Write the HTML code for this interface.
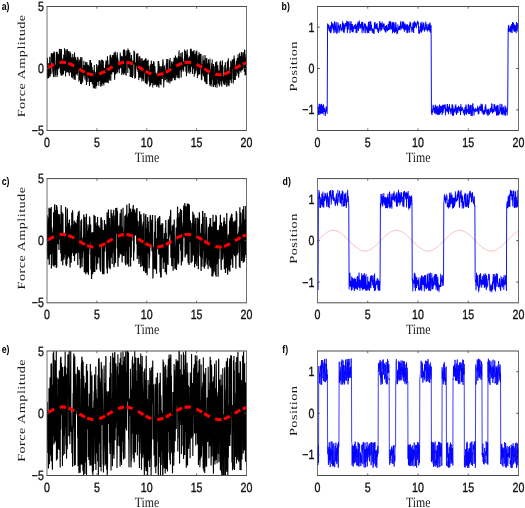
<!DOCTYPE html><html><head><meta charset="utf-8"><style>html,body{margin:0;padding:0;background:#fff;overflow:hidden;}svg{display:block;will-change:transform;}text{text-rendering:geometricPrecision;}.tk{font-family:"Liberation Sans",sans-serif;font-size:13.3px;fill:#111;stroke:#111;stroke-width:0.35px;}.lb{font-family:"Liberation Serif",serif;fill:#1a1a1a;}.pl{font-family:"Liberation Sans",sans-serif;font-size:11px;font-weight:bold;fill:#000;}</style></head><body>
<svg width="525" height="508" viewBox="0 0 525 508">
<rect width="525" height="508" fill="#fff"/>
<defs>
<clipPath id="c00"><rect x="47" y="6.5" width="199.5" height="124"/></clipPath>
<clipPath id="c01"><rect x="317.5" y="6.5" width="201" height="124"/></clipPath>
<clipPath id="c10"><rect x="47" y="178.6" width="199.5" height="124.2"/></clipPath>
<clipPath id="c11"><rect x="317.5" y="178.6" width="201" height="124.2"/></clipPath>
<clipPath id="c20"><rect x="47" y="351" width="199.5" height="124.5"/></clipPath>
<clipPath id="c21"><rect x="317.5" y="351" width="201" height="124.5"/></clipPath>
</defs>
<g clip-path="url(#c00)">
<polyline fill="none" stroke="#000" stroke-width="1.3" transform="translate(47 0) scale(0.8 1)" points="0,77.4 0.2,67.4 0.5,57.8 0.7,65.7 1,78.8 1.2,69.1 1.5,63.1 1.7,68.1 2,67.9 2.2,78 2.5,74 2.7,72.5 3,69.5 3.2,65.1 3.5,56.7 3.7,76.6 4,75.6 4.2,70.8 4.5,71.5 4.7,63 5,74.1 5.2,55.7 5.5,53 5.7,56.5 6,62.3 6.2,56.3 6.5,53.9 6.7,57.2 7,64 7.2,72.4 7.5,52.9 7.7,74.5 8,73.5 8.2,77.1 8.5,67.4 8.7,51.5 9,55.5 9.2,51.7 9.5,56.9 9.7,61 10,77.1 10.2,75.6 10.5,71.4 10.7,75.1 11,64.7 11.2,66.6 11.5,66 11.7,51.7 12,69.4 12.2,63.3 12.5,77 12.7,51.7 13,56 13.2,74.9 13.5,58.6 13.7,67.1 14,54.4 14.2,69.3 14.5,66.5 14.7,53.7 15,60.6 15.2,67.2 15.5,48.7 15.7,52.4 16,68.2 16.2,55.8 16.5,48.9 16.7,71.8 17,73.3 17.2,52.8 17.5,73.7 17.7,75.3 18,49 18.2,53.5 18.5,73.4 18.7,75.6 19,68.2 19.2,74.8 19.5,70.1 19.7,62 19.9,58.6 20.2,63.7 20.4,74.4 20.7,72.4 20.9,54.4 21.2,56.1 21.4,58.5 21.7,71 21.9,48.2 22.2,69.3 22.4,61.5 22.7,60 22.9,59.6 23.2,76.6 23.4,53.2 23.7,49.5 23.9,50.8 24.2,72.5 24.4,66.9 24.7,61.3 24.9,64.6 25.2,66.9 25.4,48.9 25.7,72.2 25.9,58.3 26.2,51 26.4,72.6 26.7,67 26.9,58.4 27.2,58 27.4,51.2 27.7,69.8 27.9,75.8 28.2,59.7 28.4,68.8 28.7,62.2 28.9,51.4 29.2,59.8 29.4,72.5 29.7,53.4 29.9,64 30.2,63.6 30.4,57 30.7,77.2 30.9,65.5 31.2,68 31.4,58.3 31.7,78.2 31.9,67.2 32.2,54 32.4,59.7 32.7,60.9 32.9,68.9 33.2,76.2 33.4,57.3 33.7,79.5 33.9,63.7 34.2,61 34.4,52.5 34.7,64.4 34.9,76.6 35.2,80 35.4,74.6 35.7,67.5 35.9,57 36.2,71.9 36.4,74.3 36.7,65.8 36.9,60.8 37.2,59.7 37.4,61.5 37.7,75.4 37.9,72.5 38.2,73.5 38.4,56.8 38.7,60.3 38.9,57.7 39.2,70.3 39.4,63.5 39.7,61.5 39.9,81.6 40.1,76.1 40.4,73.9 40.6,63.4 40.9,59.6 41.1,79.9 41.4,77.8 41.6,69.1 41.9,84 42.1,57.1 42.4,70.3 42.6,61.9 42.9,62.8 43.1,84.3 43.4,73.2 43.6,57.3 43.9,67.1 44.1,79.4 44.4,68.3 44.6,82.6 44.9,71.3 45.1,77.1 45.4,73.4 45.6,65.2 45.9,72.8 46.1,60.7 46.4,75.3 46.6,73.5 46.9,65.2 47.1,69.5 47.4,78.6 47.6,79 47.9,74.6 48.1,66.7 48.4,61.7 48.6,69.3 48.9,67.4 49.1,72.4 49.4,84.9 49.6,76.1 49.9,62.1 50.1,74 50.4,64.9 50.6,65.3 50.9,65.7 51.1,82 51.4,67.4 51.6,64.9 51.9,69.8 52.1,78 52.4,77 52.6,67.2 52.9,66.8 53.1,86.1 53.4,73.1 53.6,60.1 53.9,81.6 54.1,78.1 54.4,60.1 54.6,82.1 54.9,62.6 55.1,63.2 55.4,81.9 55.6,63 55.9,81.2 56.1,79.5 56.4,67.1 56.6,84.2 56.9,69.8 57.1,78.1 57.4,70.3 57.6,79.5 57.9,88.3 58.1,74.4 58.4,76.2 58.6,73.1 58.9,72.5 59.1,64.9 59.4,88.5 59.6,75.6 59.8,71.5 60.1,74.8 60.3,72.2 60.6,75.8 60.8,85.5 61.1,88.6 61.3,76.3 61.6,84 61.8,77.4 62.1,63.9 62.3,86.1 62.6,72.3 62.8,81.4 63.1,78.4 63.3,82 63.6,66.6 63.8,69 64.1,65.1 64.3,68.6 64.6,80.1 64.8,85.7 65.1,60 65.3,61.3 65.6,81 65.8,79.9 66.1,74.2 66.3,61.7 66.6,60.7 66.8,75.1 67.1,84.7 67.3,86.7 67.6,64.5 67.8,83.2 68.1,82 68.3,59.5 68.6,77.3 68.8,85.8 69.1,62.6 69.3,60.1 69.6,74.5 69.8,83.5 70.1,75.6 70.3,60.8 70.6,69.8 70.8,74.3 71.1,85.4 71.3,71.8 71.6,73.7 71.8,67.9 72.1,70.7 72.3,81.8 72.6,82 72.8,72.2 73.1,64.4 73.3,73.3 73.6,60.4 73.8,82.2 74.1,69.7 74.3,69.2 74.6,80.7 74.8,60.4 75.1,82.8 75.3,64.2 75.6,56.3 75.8,76.4 76.1,60.2 76.3,77.6 76.6,83.3 76.8,77.2 77.1,78.4 77.3,64.4 77.6,66 77.8,75.3 78.1,66.7 78.3,80.4 78.6,59.3 78.8,55.4 79.1,64.3 79.3,59.2 79.6,54.8 79.8,80.7 80,62.8 80.3,61.9 80.5,57.2 80.8,70.6 81,74.1 81.3,70.7 81.5,72.3 81.8,67.6 82,55.1 82.3,69.2 82.5,58.1 82.8,71.9 83,58.2 83.3,55.3 83.5,72.4 83.8,52.6 84,60.4 84.3,61.4 84.5,79.8 84.8,74.1 85,64.9 85.3,51.5 85.5,54.4 85.8,74.3 86,55.3 86.3,57.8 86.5,57.4 86.8,66 87,61.8 87.3,73.4 87.5,70.1 87.8,52.2 88,56.2 88.3,72.3 88.5,58 88.8,62.3 89,60.5 89.3,69 89.5,68.4 89.8,67.5 90,61.7 90.3,73.3 90.5,65.9 90.8,63.4 91,68.8 91.3,66.1 91.5,52.6 91.8,56.7 92,60.1 92.3,68 92.5,62.2 92.8,57.8 93,59.7 93.3,55.9 93.5,74.9 93.8,72.8 94,72.4 94.3,68.5 94.5,56.4 94.8,66.9 95,62.8 95.3,73.1 95.5,50.1 95.8,74.8 96,71.1 96.3,61.2 96.5,49.2 96.8,61.8 97,73.6 97.3,50.1 97.5,52.9 97.8,70.7 98,58.6 98.3,55.8 98.5,74.6 98.8,74.9 99,75.6 99.3,57.8 99.5,58.9 99.8,50.4 100,63.5 100.2,55.3 100.5,56.8 100.7,55.3 101,73 101.2,48.6 101.5,53 101.7,50.5 102,51 102.2,67.7 102.5,50.2 102.7,58.7 103,56.9 103.2,69.3 103.5,64.8 103.7,52.5 104,77 104.2,70.7 104.5,69.3 104.7,60.9 105,58.4 105.2,76.9 105.5,55 105.7,56.7 106,62.1 106.2,59.8 106.5,77.1 106.7,77.8 107,76.3 107.2,71.2 107.5,75.5 107.7,61.1 108,64.1 108.2,61.2 108.5,64.2 108.7,50.5 109,54.8 109.2,56.9 109.5,51.8 109.7,78.7 110,62.7 110.2,63 110.5,68.2 110.7,78 111,63.7 111.2,68.7 111.5,64.8 111.7,60.3 112,53.8 112.2,64.4 112.5,57.8 112.7,59.3 113,70 113.2,66.9 113.5,53.1 113.7,72.1 114,60.4 114.2,71.7 114.5,72.9 114.7,80.1 115,75 115.2,56.5 115.5,61.3 115.7,57.7 116,56.3 116.2,76.9 116.5,77.9 116.7,73.4 117,72.9 117.2,71.3 117.5,58.5 117.7,70.9 118,76.9 118.2,74.6 118.5,79.1 118.7,81.4 119,58.2 119.2,65 119.5,79 119.7,78.3 119.9,64.5 120.2,71.6 120.4,60.8 120.7,69.2 120.9,81.2 121.2,70.4 121.4,60.1 121.7,72.1 121.9,64 122.2,72.9 122.4,60.3 122.7,59.8 122.9,83 123.2,77.8 123.4,63.7 123.7,83.4 123.9,58.5 124.2,72.5 124.4,70.7 124.7,67.4 124.9,84.6 125.2,60.8 125.4,83.5 125.7,66.2 125.9,68.1 126.2,76 126.4,59.8 126.7,76 126.9,66.2 127.2,80.7 127.4,77 127.7,70.3 127.9,81.7 128.2,77.5 128.4,86.8 128.7,65.8 128.9,70 129.2,64.5 129.4,81.9 129.7,85.2 129.9,64.8 130.2,68.9 130.4,60.4 130.7,68.8 130.9,82.8 131.2,81 131.4,80.8 131.7,63.9 131.9,64.9 132.2,87.4 132.4,71 132.7,84.7 132.9,78.3 133.2,62.6 133.4,61.2 133.7,80.1 133.9,62.2 134.2,85.3 134.4,76.8 134.7,75 134.9,65.9 135.2,76.3 135.4,84 135.7,82.7 135.9,84.8 136.2,83.8 136.4,72.8 136.7,79.6 136.9,74.4 137.2,86.9 137.4,85.9 137.7,84.3 137.9,83.2 138.2,77.1 138.4,70.8 138.7,85.2 138.9,61 139.2,78.8 139.4,86.3 139.7,60.9 139.9,87.7 140.1,63.7 140.4,78.1 140.6,66.3 140.9,74.6 141.1,75.7 141.4,84.2 141.6,66.2 141.9,75.4 142.1,81.1 142.4,68.6 142.6,85.2 142.9,73.4 143.1,78.4 143.4,66 143.6,74.8 143.9,69.2 144.1,78.9 144.4,72.5 144.6,63.9 144.9,59.4 145.1,60.9 145.4,67.6 145.6,69.8 145.9,87.4 146.1,79.2 146.4,79.7 146.6,72.5 146.9,65.5 147.1,70.3 147.4,75.4 147.6,75.3 147.9,80.1 148.1,69.9 148.4,70.8 148.6,72.9 148.9,68.5 149.1,63.4 149.4,79.2 149.6,59.1 149.9,82.3 150.1,67.8 150.4,78.7 150.6,78.2 150.9,71.2 151.1,59 151.4,76.3 151.6,82.8 151.9,74.2 152.1,77.4 152.4,70.1 152.6,71.6 152.9,80.7 153.1,60.3 153.4,63.6 153.6,83.5 153.9,58 154.1,78.8 154.4,77.5 154.6,76.1 154.9,66.3 155.1,81.5 155.4,76.1 155.6,64.9 155.9,61.4 156.1,73.7 156.4,80.7 156.6,63.9 156.9,67.3 157.1,68.5 157.4,78 157.6,61.7 157.9,62.5 158.1,70.6 158.4,78.3 158.6,62.4 158.9,57.6 159.1,60 159.4,78.9 159.6,78.7 159.8,58 160.1,76.9 160.3,80.3 160.6,55.6 160.8,68.5 161.1,66.1 161.3,77.7 161.6,61.9 161.8,57.4 162.1,70.6 162.3,75.1 162.6,64.3 162.8,58.3 163.1,59.9 163.3,77.7 163.6,65.6 163.8,74 164.1,56 164.3,72.3 164.6,78 164.8,55.1 165.1,50.5 165.3,78.5 165.6,66.1 165.8,56.5 166.1,68.4 166.3,68.7 166.6,58 166.8,65.7 167.1,63 167.3,52.9 167.6,77.6 167.8,75 168.1,60.9 168.3,57.3 168.6,71.7 168.8,62.4 169.1,51.9 169.3,59.7 169.6,69.4 169.8,61.6 170.1,67.4 170.3,64.5 170.6,63.5 170.8,71.5 171.1,64.2 171.3,61 171.6,58.3 171.8,65.8 172.1,49.5 172.3,66.4 172.6,51.3 172.8,62.6 173.1,54.7 173.3,51 173.6,70.3 173.8,72 174.1,54.2 174.3,76.2 174.6,60.1 174.8,60.3 175.1,51.8 175.3,49.6 175.6,65 175.8,55.4 176.1,61.5 176.3,73.2 176.6,57.5 176.8,71.5 177.1,64.8 177.3,58.7 177.6,60 177.8,65.6 178.1,56.4 178.3,69.5 178.6,73.7 178.8,67.9 179.1,67.6 179.3,48.8 179.5,72 179.8,55.7 180,54.6 180.3,48.8 180.5,66.8 180.8,60.8 181,63.4 181.3,66.3 181.5,51.2 181.8,73.9 182,53.7 182.3,68.7 182.5,52.6 182.8,51.3 183,62.6 183.3,64.1 183.5,68.9 183.8,50 184,76.8 184.3,57 184.5,54.2 184.8,66.1 185,59.5 185.3,73.8 185.5,53.6 185.8,56.4 186,71.6 186.3,51.3 186.5,68 186.8,59.5 187,66.4 187.3,50.6 187.5,70.6 187.8,61.6 188,77.9 188.3,59.9 188.5,75.9 188.8,59.3 189,55.2 189.3,62.1 189.5,71.8 189.8,74.4 190,52.3 190.3,55.6 190.5,68.8 190.8,64.4 191,74.5 191.3,57.9 191.5,54.1 191.8,57.7 192,67.8 192.3,67.6 192.5,53.7 192.8,64.4 193,79.6 193.3,71.2 193.5,80.3 193.8,67.1 194,73.7 194.3,63.8 194.5,70.1 194.8,60.8 195,55.6 195.3,72.7 195.5,75.9 195.8,65.9 196,73.9 196.3,60.2 196.5,77.3 196.8,59.8 197,81.6 197.3,66.3 197.5,55.1 197.8,58.7 198,82.3 198.3,64.1 198.5,80 198.8,77.9 199,84.2 199.3,58.1 199.5,59 199.7,58.9 200,84 200.2,63.4 200.5,64.7 200.7,73.6 201,69.3 201.2,64.7 201.5,74.5 201.7,59.4 202,60.9 202.2,69.7 202.5,66.1 202.7,65.6 203,63.4 203.2,80.2 203.5,84.8 203.7,58.4 204,86.3 204.2,81.8 204.5,69.7 204.7,74.3 205,79 205.2,84.5 205.5,69.9 205.7,66.2 206,63.1 206.2,86.8 206.5,59.5 206.7,80.2 207,72.4 207.2,68.5 207.5,77.2 207.7,74.9 208,64.1 208.2,87 208.5,82.2 208.7,75.4 209,65.9 209.2,71.6 209.5,85 209.7,77.6 210,83.2 210.2,74.9 210.5,87.3 210.7,62.2 211,64.7 211.2,63.7 211.5,84.4 211.7,69.4 212,84.1 212.2,61.2 212.5,87.7 212.7,79.5 213,78.8 213.2,66.2 213.5,66 213.7,72.5 214,69.4 214.2,83.6 214.5,74.4 214.7,72.6 215,84.5 215.2,70.7 215.5,86.6 215.7,78.7 216,79.5 216.2,62.2 216.5,61.8 216.7,81.2 217,61.4 217.2,72.9 217.5,84.7 217.7,76.8 218,70.3 218.2,64.9 218.5,86.8 218.7,71.1 219,80.5 219.2,60.4 219.5,67.9 219.7,74.2 219.9,66.4 220.2,81.4 220.4,79.5 220.7,83.5 220.9,76.5 221.2,84.5 221.4,80.2 221.7,78.6 221.9,74.6 222.2,64.9 222.4,84.9 222.7,84.3 222.9,62.2 223.2,74 223.4,82.3 223.7,75.4 223.9,80.4 224.2,70.2 224.4,80.7 224.7,86.9 224.9,67.7 225.2,76.7 225.4,61.8 225.7,79.4 225.9,60.4 226.2,85.2 226.4,76.8 226.7,58.2 226.9,80.2 227.2,71.5 227.4,86.2 227.7,83.4 227.9,82.2 228.2,71.9 228.4,74.7 228.7,67.5 228.9,79.2 229.2,66.7 229.4,80.3 229.7,60.8 229.9,66.4 230.2,80.8 230.4,83.2 230.7,70.7 230.9,78.9 231.2,61.6 231.4,67 231.7,59.4 231.9,68.5 232.2,59.8 232.4,62 232.7,82.5 232.9,83.4 233.2,66.8 233.4,58.4 233.7,79.9 233.9,55.6 234.2,71.5 234.4,58.5 234.7,79.7 234.9,69.8 235.2,67.2 235.4,79.9 235.7,69.1 235.9,67.1 236.2,64.5 236.4,71.1 236.7,60.7 236.9,64 237.2,76.1 237.4,66.5 237.7,59.6 237.9,58.1 238.2,64.5 238.4,65.6 238.7,73.3 238.9,54.3 239.2,59.4 239.4,72.3 239.6,77.7 239.9,71.2 240.1,73.7 240.4,57.7 240.6,58.4 240.9,52.9 241.1,59.7 241.4,71 241.6,56 241.9,60.5 242.1,66.7 242.4,72.5 242.6,61.2 242.9,64.8 243.1,52.1 243.4,70.4 243.6,67.4 243.9,57.8 244.1,66.3 244.4,69.9 244.6,56.7 244.9,52.4 245.1,68.5 245.4,59.6 245.6,63.3 245.9,58.2 246.1,64.8 246.4,51.8 246.6,71.7 246.9,49.5 247.1,63.7 247.4,54.2 247.6,75.4 247.9,67.3 248.1,57.4 248.4,65.5 248.6,68.3 248.9,75 249.1,49.9 249.4,65"/>
<polyline fill="none" stroke="#f00" stroke-width="3" stroke-dasharray="6.5 2.5 6.5 6" stroke-dashoffset="7.25" points="47,68.5 47.2,68.3 47.5,68.2 47.7,68 48,67.9 48.2,67.7 48.5,67.6 48.7,67.4 49,67.3 49.2,67.1 49.5,67 49.7,66.8 50,66.7 50.2,66.5 50.5,66.4 50.7,66.2 51,66.1 51.2,65.9 51.5,65.8 51.7,65.7 52,65.5 52.2,65.4 52.5,65.3 52.7,65.1 53,65 53.2,64.9 53.5,64.7 53.7,64.6 54,64.5 54.2,64.4 54.5,64.3 54.7,64.2 55,64.1 55.2,63.9 55.5,63.8 55.7,63.7 56,63.6 56.2,63.5 56.5,63.5 56.7,63.4 57,63.3 57.2,63.2 57.5,63.1 57.7,63 58,63 58.2,62.9 58.5,62.8 58.7,62.8 59,62.7 59.2,62.7 59.5,62.6 59.7,62.6 60,62.5 60.2,62.5 60.5,62.5 60.7,62.4 61,62.4 61.2,62.4 61.5,62.3 61.7,62.3 62,62.3 62.2,62.3 62.5,62.3 62.7,62.3 63,62.3 63.2,62.3 63.5,62.3 63.7,62.3 64,62.4 64.2,62.4 64.5,62.4 64.7,62.4 65,62.5 65.2,62.5 65.5,62.5 65.7,62.6 66,62.6 66.2,62.7 66.5,62.7 66.7,62.8 67,62.9 67.2,62.9 67.4,63 67.7,63.1 67.9,63.1 68.2,63.2 68.4,63.3 68.7,63.4 68.9,63.5 69.2,63.6 69.4,63.7 69.7,63.8 69.9,63.9 70.2,64 70.4,64.1 70.7,64.2 70.9,64.3 71.2,64.4 71.4,64.5 71.7,64.7 71.9,64.8 72.2,64.9 72.4,65 72.7,65.2 72.9,65.3 73.2,65.4 73.4,65.6 73.7,65.7 73.9,65.9 74.2,66 74.4,66.1 74.7,66.3 74.9,66.4 75.2,66.6 75.4,66.7 75.7,66.9 75.9,67 76.2,67.2 76.4,67.3 76.7,67.5 76.9,67.6 77.2,67.8 77.4,67.9 77.7,68.1 77.9,68.2 78.2,68.4 78.4,68.6 78.7,68.7 78.9,68.9 79.2,69 79.4,69.2 79.7,69.3 79.9,69.5 80.2,69.6 80.4,69.8 80.7,69.9 80.9,70.1 81.2,70.2 81.4,70.4 81.7,70.5 81.9,70.7 82.2,70.8 82.4,71 82.7,71.1 82.9,71.2 83.2,71.4 83.4,71.5 83.7,71.7 83.9,71.8 84.2,71.9 84.4,72 84.7,72.2 84.9,72.3 85.2,72.4 85.4,72.5 85.7,72.7 85.9,72.8 86.2,72.9 86.4,73 86.7,73.1 86.9,73.2 87.1,73.3 87.4,73.4 87.6,73.5 87.9,73.6 88.1,73.7 88.4,73.7 88.6,73.8 88.9,73.9 89.1,74 89.4,74 89.6,74.1 89.9,74.2 90.1,74.2 90.4,74.3 90.6,74.4 90.9,74.4 91.1,74.4 91.4,74.5 91.6,74.5 91.9,74.6 92.1,74.6 92.4,74.6 92.6,74.6 92.9,74.7 93.1,74.7 93.4,74.7 93.6,74.7 93.9,74.7 94.1,74.7 94.4,74.7 94.6,74.7 94.9,74.7 95.1,74.7 95.4,74.6 95.6,74.6 95.9,74.6 96.1,74.6 96.4,74.5 96.6,74.5 96.9,74.4 97.1,74.4 97.4,74.4 97.6,74.3 97.9,74.2 98.1,74.2 98.4,74.1 98.6,74 98.9,74 99.1,73.9 99.4,73.8 99.6,73.7 99.9,73.7 100.1,73.6 100.4,73.5 100.6,73.4 100.9,73.3 101.1,73.2 101.4,73.1 101.6,73 101.9,72.9 102.1,72.8 102.4,72.6 102.6,72.5 102.9,72.4 103.1,72.3 103.4,72.2 103.6,72 103.9,71.9 104.1,71.8 104.4,71.7 104.6,71.5 104.9,71.4 105.1,71.2 105.4,71.1 105.6,71 105.9,70.8 106.1,70.7 106.4,70.5 106.6,70.4 106.8,70.2 107.1,70.1 107.3,69.9 107.6,69.8 107.8,69.6 108.1,69.5 108.3,69.3 108.6,69.2 108.8,69 109.1,68.9 109.3,68.7 109.6,68.6 109.8,68.4 110.1,68.2 110.3,68.1 110.6,67.9 110.8,67.8 111.1,67.6 111.3,67.5 111.6,67.3 111.8,67.2 112.1,67 112.3,66.9 112.6,66.7 112.8,66.6 113.1,66.4 113.3,66.3 113.6,66.1 113.8,66 114.1,65.8 114.3,65.7 114.6,65.6 114.8,65.4 115.1,65.3 115.3,65.2 115.6,65 115.8,64.9 116.1,64.8 116.3,64.7 116.6,64.5 116.8,64.4 117.1,64.3 117.3,64.2 117.6,64.1 117.8,64 118.1,63.9 118.3,63.8 118.6,63.7 118.8,63.6 119.1,63.5 119.3,63.4 119.6,63.3 119.8,63.2 120.1,63.1 120.3,63.1 120.6,63 120.8,62.9 121.1,62.9 121.3,62.8 121.6,62.7 121.8,62.7 122.1,62.6 122.3,62.6 122.6,62.5 122.8,62.5 123.1,62.5 123.3,62.4 123.6,62.4 123.8,62.4 124.1,62.4 124.3,62.3 124.6,62.3 124.8,62.3 125.1,62.3 125.3,62.3 125.6,62.3 125.8,62.3 126.1,62.3 126.3,62.3 126.6,62.3 126.8,62.4 127,62.4 127.3,62.4 127.5,62.5 127.8,62.5 128,62.5 128.3,62.6 128.5,62.6 128.8,62.7 129,62.7 129.3,62.8 129.5,62.8 129.8,62.9 130,63 130.3,63 130.5,63.1 130.8,63.2 131,63.3 131.3,63.4 131.5,63.5 131.8,63.5 132,63.6 132.3,63.7 132.5,63.8 132.8,63.9 133,64.1 133.3,64.2 133.5,64.3 133.8,64.4 134,64.5 134.3,64.6 134.5,64.7 134.8,64.9 135,65 135.3,65.1 135.5,65.3 135.8,65.4 136,65.5 136.3,65.7 136.5,65.8 136.8,65.9 137,66.1 137.3,66.2 137.5,66.4 137.8,66.5 138,66.7 138.3,66.8 138.5,67 138.8,67.1 139,67.3 139.3,67.4 139.5,67.6 139.8,67.7 140,67.9 140.3,68 140.5,68.2 140.8,68.3 141,68.5 141.3,68.7 141.5,68.8 141.8,69 142,69.1 142.3,69.3 142.5,69.4 142.8,69.6 143,69.7 143.3,69.9 143.5,70 143.8,70.2 144,70.3 144.3,70.5 144.5,70.6 144.8,70.8 145,70.9 145.3,71.1 145.5,71.2 145.8,71.3 146,71.5 146.3,71.6 146.5,71.7 146.8,71.9 147,72 147.2,72.1 147.5,72.3 147.7,72.4 148,72.5 148.2,72.6 148.5,72.7 148.7,72.8 149,72.9 149.2,73.1 149.5,73.2 149.7,73.3 150,73.4 150.2,73.5 150.5,73.5 150.7,73.6 151,73.7 151.2,73.8 151.5,73.9 151.7,74 152,74 152.2,74.1 152.5,74.2 152.7,74.2 153,74.3 153.2,74.3 153.5,74.4 153.7,74.4 154,74.5 154.2,74.5 154.5,74.5 154.7,74.6 155,74.6 155.2,74.6 155.5,74.7 155.7,74.7 156,74.7 156.2,74.7 156.5,74.7 156.7,74.7 157,74.7 157.2,74.7 157.5,74.7 157.7,74.7 158,74.6 158.2,74.6 158.5,74.6 158.7,74.6 159,74.5 159.2,74.5 159.5,74.5 159.7,74.4 160,74.4 160.2,74.3 160.5,74.3 160.7,74.2 161,74.1 161.2,74.1 161.5,74 161.7,73.9 162,73.9 162.2,73.8 162.5,73.7 162.7,73.6 163,73.5 163.2,73.4 163.5,73.3 163.7,73.2 164,73.1 164.2,73 164.5,72.9 164.7,72.8 165,72.7 165.2,72.6 165.5,72.5 165.7,72.3 166,72.2 166.2,72.1 166.5,72 166.7,71.8 166.9,71.7 167.2,71.6 167.4,71.4 167.7,71.3 167.9,71.1 168.2,71 168.4,70.9 168.7,70.7 168.9,70.6 169.2,70.4 169.4,70.3 169.7,70.1 169.9,70 170.2,69.8 170.4,69.7 170.7,69.5 170.9,69.4 171.2,69.2 171.4,69.1 171.7,68.9 171.9,68.8 172.2,68.6 172.4,68.4 172.7,68.3 172.9,68.1 173.2,68 173.4,67.8 173.7,67.7 173.9,67.5 174.2,67.4 174.4,67.2 174.7,67.1 174.9,66.9 175.2,66.8 175.4,66.6 175.7,66.5 175.9,66.3 176.2,66.2 176.4,66 176.7,65.9 176.9,65.8 177.2,65.6 177.4,65.5 177.7,65.3 177.9,65.2 178.2,65.1 178.4,65 178.7,64.8 178.9,64.7 179.2,64.6 179.4,64.5 179.7,64.3 179.9,64.2 180.2,64.1 180.4,64 180.7,63.9 180.9,63.8 181.2,63.7 181.4,63.6 181.7,63.5 181.9,63.4 182.2,63.3 182.4,63.3 182.7,63.2 182.9,63.1 183.2,63 183.4,63 183.7,62.9 183.9,62.8 184.2,62.8 184.4,62.7 184.7,62.6 184.9,62.6 185.2,62.6 185.4,62.5 185.7,62.5 185.9,62.4 186.2,62.4 186.4,62.4 186.6,62.4 186.9,62.3 187.1,62.3 187.4,62.3 187.6,62.3 187.9,62.3 188.1,62.3 188.4,62.3 188.6,62.3 188.9,62.3 189.1,62.3 189.4,62.4 189.6,62.4 189.9,62.4 190.1,62.4 190.4,62.5 190.6,62.5 190.9,62.6 191.1,62.6 191.4,62.7 191.6,62.7 191.9,62.8 192.1,62.8 192.4,62.9 192.6,63 192.9,63 193.1,63.1 193.4,63.2 193.6,63.3 193.9,63.3 194.1,63.4 194.4,63.5 194.6,63.6 194.9,63.7 195.1,63.8 195.4,63.9 195.6,64 195.9,64.1 196.1,64.2 196.4,64.4 196.6,64.5 196.9,64.6 197.1,64.7 197.4,64.8 197.6,65 197.9,65.1 198.1,65.2 198.4,65.3 198.6,65.5 198.9,65.6 199.1,65.8 199.4,65.9 199.6,66 199.9,66.2 200.1,66.3 200.4,66.5 200.6,66.6 200.9,66.8 201.1,66.9 201.4,67.1 201.6,67.2 201.9,67.4 202.1,67.5 202.4,67.7 202.6,67.8 202.9,68 203.1,68.1 203.4,68.3 203.6,68.5 203.9,68.6 204.1,68.8 204.4,68.9 204.6,69.1 204.9,69.2 205.1,69.4 205.4,69.5 205.6,69.7 205.9,69.8 206.1,70 206.4,70.1 206.6,70.3 206.8,70.4 207.1,70.6 207.3,70.7 207.6,70.9 207.8,71 208.1,71.2 208.3,71.3 208.6,71.4 208.8,71.6 209.1,71.7 209.3,71.8 209.6,72 209.8,72.1 210.1,72.2 210.3,72.3 210.6,72.5 210.8,72.6 211.1,72.7 211.3,72.8 211.6,72.9 211.8,73 212.1,73.1 212.3,73.2 212.6,73.3 212.8,73.4 213.1,73.5 213.3,73.6 213.6,73.7 213.8,73.8 214.1,73.9 214.3,73.9 214.6,74 214.8,74.1 215.1,74.1 215.3,74.2 215.6,74.3 215.8,74.3 216.1,74.4 216.3,74.4 216.6,74.5 216.8,74.5 217.1,74.5 217.3,74.6 217.6,74.6 217.8,74.6 218.1,74.6 218.3,74.7 218.6,74.7 218.8,74.7 219.1,74.7 219.3,74.7 219.6,74.7 219.8,74.7 220.1,74.7 220.3,74.7 220.6,74.7 220.8,74.6 221.1,74.6 221.3,74.6 221.6,74.5 221.8,74.5 222.1,74.5 222.3,74.4 222.6,74.4 222.8,74.3 223.1,74.3 223.3,74.2 223.6,74.2 223.8,74.1 224.1,74 224.3,74 224.6,73.9 224.8,73.8 225.1,73.7 225.3,73.6 225.6,73.5 225.8,73.4 226.1,73.4 226.3,73.3 226.6,73.2 226.8,73.1 227,72.9 227.3,72.8 227.5,72.7 227.8,72.6 228,72.5 228.3,72.4 228.5,72.2 228.8,72.1 229,72 229.3,71.9 229.5,71.7 229.8,71.6 230,71.5 230.3,71.3 230.5,71.2 230.8,71.1 231,70.9 231.3,70.8 231.5,70.6 231.8,70.5 232,70.3 232.3,70.2 232.5,70 232.8,69.9 233,69.7 233.3,69.6 233.5,69.4 233.8,69.3 234,69.1 234.3,69 234.5,68.8 234.8,68.7 235,68.5 235.3,68.3 235.5,68.2 235.8,68 236,67.9 236.3,67.7 236.5,67.6 236.8,67.4 237,67.3 237.3,67.1 237.5,67 237.8,66.8 238,66.7 238.3,66.5 238.5,66.4 238.8,66.2 239,66.1 239.3,65.9 239.5,65.8 239.8,65.7 240,65.5 240.3,65.4 240.5,65.3 240.8,65.1 241,65 241.3,64.9 241.5,64.7 241.8,64.6 242,64.5 242.3,64.4 242.5,64.3 242.8,64.2 243,64.1 243.3,63.9 243.5,63.8 243.8,63.7 244,63.6 244.3,63.5 244.5,63.5 244.8,63.4 245,63.3 245.3,63.2 245.5,63.1 245.8,63 246,63 246.3,62.9 246.5,62.8"/>
</g>
<g clip-path="url(#c01)">
<polyline fill="none" stroke="#00f" stroke-width="1.2" transform="translate(317.5 0) scale(0.8 1)" points="0,106.3 0.4,108.5 0.8,107.2 1.3,114.9 1.7,108.2 2.1,103.9 2.5,110.8 2.9,114.6 3.4,104.2 3.8,107.7 4.2,113.6 4.6,107.7 5,103.7 5.4,113.4 5.9,105.4 6.3,107.4 6.7,113.3 7.1,113.7 7.5,104.2 8,111.8 8.4,110.6 8.8,107.9 9.2,110.6 9.6,116 10.1,112.8 10.5,110.2 10.9,106.6 11.3,108.5 11.7,110.7 12.1,113.7 12.6,23.6 13,31 13.4,24.4 13.8,27.2 14.2,26.5 14.7,28.6 15.1,30.8 15.5,31.3 15.9,25.4 16.3,29.9 16.7,33.2 17.2,31 17.6,21.9 18,24.5 18.4,26.2 18.8,28.4 19.3,23.2 19.7,30.1 20.1,25.5 20.5,33.2 20.9,25.4 21.4,21.3 21.8,24.6 22.2,32.4 22.6,26 23,29.4 23.4,22 23.9,33.1 24.3,33.2 24.7,32.2 25.1,29.2 25.5,22.4 26,26.4 26.4,25.2 26.8,32.8 27.2,31.2 27.6,28.6 28.1,25.6 28.5,24 28.9,26.2 29.3,29.9 29.7,31.1 30.2,28.1 30.6,30.2 31,23.9 31.4,22.3 31.8,23.4 32.2,31.9 32.7,23.6 33.1,33.2 33.5,31.7 33.9,24.7 34.3,29.4 34.8,23.1 35.2,24.8 35.6,25.4 36,25.9 36.4,22 36.9,23 37.3,33 37.7,21.2 38.1,28 38.5,29.7 38.9,22.6 39.4,22 39.8,23.8 40.2,24.4 40.6,33.2 41,29.9 41.5,23.3 41.9,21 42.3,29.9 42.7,23.9 43.1,32 43.6,24.1 44,28.9 44.4,32.4 44.8,31.2 45.2,26.3 45.6,27.5 46.1,24.8 46.5,29 46.9,26 47.3,28.7 47.7,23.8 48.2,33.3 48.6,26.1 49,26.1 49.4,32.6 49.8,23.9 50.2,25.5 50.7,21.6 51.1,31 51.5,28.1 51.9,22.6 52.3,21.7 52.8,24.9 53.2,29 53.6,24.1 54,27.7 54.4,26.7 54.9,25 55.3,21.8 55.7,33.3 56.1,24.7 56.5,22 57,28.7 57.4,30.4 57.8,26.3 58.2,33 58.6,23.4 59,27.3 59.5,25.1 59.9,23.7 60.3,33.1 60.7,31 61.1,28.2 61.6,25.8 62,28.8 62.4,29.9 62.8,33.1 63.2,28.1 63.7,21.7 64.1,33 64.5,25.9 64.9,30.8 65.3,21.3 65.7,23.4 66.2,30.7 66.6,21.3 67,29.5 67.4,24.8 67.8,30.1 68.3,29.7 68.7,32.6 69.1,29.7 69.5,28.3 69.9,33 70.3,33.2 70.8,33.2 71.2,22.5 71.6,28.2 72,22 72.4,27.4 72.9,26.4 73.3,28.8 73.7,23.7 74.1,29.1 74.5,23.4 75,28.5 75.4,31.8 75.8,28.2 76.2,33 76.6,28.6 77,28.6 77.5,24.6 77.9,21 78.3,31.4 78.7,25.8 79.1,23 79.6,24.9 80,30.5 80.4,28.2 80.8,21.8 81.2,26.9 81.7,25 82.1,29.5 82.5,23.5 82.9,26.4 83.3,23.6 83.8,29.9 84.2,30.5 84.6,31.1 85,26 85.4,32.4 85.8,29.1 86.3,25.1 86.7,29.9 87.1,30.1 87.5,30.5 87.9,27.5 88.4,24 88.8,30.1 89.2,26.8 89.6,21.1 90,27.2 90.5,30 90.9,23 91.3,22.1 91.7,24.1 92.1,29.3 92.5,27.2 93,29.4 93.4,21.9 93.8,33.2 94.2,22.5 94.6,30.1 95.1,31.5 95.5,23 95.9,23.5 96.3,32.9 96.7,29.7 97.2,32.2 97.6,24.1 98,22.2 98.4,29.8 98.8,29 99.2,33 99.7,32.1 100.1,32.6 100.5,24.4 100.9,30.8 101.3,27.6 101.8,30 102.2,26.9 102.6,26.5 103,29.1 103.4,30.1 103.8,22.1 104.3,21.8 104.7,27.6 105.1,28.4 105.5,26.9 105.9,26.6 106.4,21.5 106.8,28 107.2,29.1 107.6,21.6 108,25.3 108.5,31.7 108.9,26.6 109.3,23.2 109.7,26.4 110.1,30.1 110.5,28.9 111,24.3 111.4,26.5 111.8,33.2 112.2,29.4 112.6,24.2 113.1,32.6 113.5,28.4 113.9,26.4 114.3,29.6 114.7,24.9 115.2,32.6 115.6,21.8 116,24 116.4,22.5 116.8,26.9 117.3,27.6 117.7,29.5 118.1,32.1 118.5,27 118.9,29.5 119.3,22.6 119.8,31.3 120.2,32.9 120.6,23.6 121,21.2 121.4,28 121.9,22.6 122.3,24.5 122.7,23.6 123.1,26.1 123.5,27.1 123.9,25.6 124.4,23.5 124.8,21.6 125.2,22.3 125.6,24.3 126,21.8 126.5,33 126.9,33.2 127.3,30.2 127.7,33.3 128.1,26.4 128.6,30.9 129,22.5 129.4,32.2 129.8,23.8 130.2,32.6 130.6,21.7 131.1,28.9 131.5,29.9 131.9,29.4 132.3,24.6 132.7,22.6 133.2,25.1 133.6,31.6 134,28.7 134.4,27.3 134.8,30 135.3,21.8 135.7,24.6 136.1,24.7 136.5,30.3 136.9,26.8 137.3,30.5 137.8,29.4 138.2,23.7 138.6,30.3 139,24.9 139.4,30.4 139.9,23.5 140.3,31.4 140.7,22.4 141.1,32.7 141.5,30.7 142,25.2 142.4,111.6 142.8,114 143.2,114.2 143.6,109.5 144.1,112.2 144.5,104.8 144.9,106.8 145.3,110 145.7,107.9 146.1,113.3 146.6,110.7 147,106 147.4,104.8 147.8,114.2 148.2,112.1 148.7,106.4 149.1,112.5 149.5,111.8 149.9,114.8 150.3,105.7 150.8,114.7 151.2,107.7 151.6,114.9 152,112.8 152.4,104.6 152.8,114.5 153.3,106.3 153.7,113.3 154.1,105.8 154.5,111.9 154.9,109.3 155.4,105.9 155.8,114.9 156.2,111.3 156.6,104.8 157,112.8 157.5,109 157.9,104.7 158.3,107.3 158.7,104.7 159.1,109.2 159.5,107.7 160,115.2 160.4,104.3 160.8,110.8 161.2,109.4 161.6,109.4 162.1,112.1 162.5,104.1 162.9,107.9 163.3,109.5 163.7,114.1 164.1,107 164.6,108.1 165,104.3 165.4,109 165.8,112 166.2,108.3 166.7,114.2 167.1,113.2 167.5,108.9 167.9,108 168.3,104.1 168.8,115.6 169.2,105.2 169.6,111 170,115.6 170.4,111.1 170.8,108.6 171.3,111.5 171.7,111.7 172.1,105.9 172.5,110.8 172.9,104.2 173.4,112.8 173.8,114.8 174.2,110 174.6,107 175,111.7 175.5,113 175.9,109.1 176.3,105.9 176.7,108.9 177.1,108.6 177.5,111.1 178,107.9 178.4,106.6 178.8,115.1 179.2,103.9 179.6,110.7 180.1,110.3 180.5,109.9 180.9,106.9 181.3,110.2 181.7,108.5 182.2,112.3 182.6,112.9 183,109.7 183.4,114.5 183.8,115.5 184.2,107.2 184.7,114.2 185.1,108.3 185.5,104.6 185.9,105.7 186.3,114.7 186.8,110.3 187.2,109.2 187.6,111.8 188,111.5 188.4,104.2 188.9,114.1 189.3,105.5 189.7,106.3 190.1,113.8 190.5,111.4 190.9,109.5 191.4,104.8 191.8,116 192.2,104.9 192.6,115.3 193,112.3 193.5,116 193.9,104 194.3,104.1 194.7,110.7 195.1,107.2 195.6,115.4 196,109.2 196.4,111.7 196.8,109.2 197.2,112.2 197.7,107.8 198.1,110.1 198.5,109.9 198.9,109.9 199.3,111.7 199.7,109.7 200.2,107.1 200.6,108.2 201,114.4 201.4,107.8 201.8,113.6 202.3,108 202.7,106.9 203.1,108.1 203.5,106.2 203.9,111 204.4,103.7 204.8,105 205.2,109.5 205.6,112.3 206,104.4 206.4,108.9 206.9,114.2 207.3,110.9 207.7,114.6 208.1,110 208.5,112.8 209,114.1 209.4,106.6 209.8,112.2 210.2,104.2 210.6,107.5 211.1,111.2 211.5,112.4 211.9,114.3 212.3,111.7 212.7,109.2 213.1,115.9 213.6,108.9 214,113.4 214.4,114 214.8,114.1 215.2,112.4 215.7,108.5 216.1,112.8 216.5,107.7 216.9,109.9 217.3,111.6 217.7,104.1 218.2,104.4 218.6,113.5 219,110.2 219.4,109.1 219.8,111.7 220.3,111.5 220.7,104.1 221.1,108.7 221.5,104.4 221.9,111.7 222.4,108 222.8,109.3 223.2,106.2 223.6,113.3 224,115.6 224.4,106 224.9,105 225.3,115.5 225.7,105.1 226.1,110.1 226.5,115.1 227,112.9 227.4,113.9 227.8,109.5 228.2,103.7 228.6,111.1 229.1,107.5 229.5,112.3 229.9,114.4 230.3,103.9 230.7,105.1 231.1,114.8 231.6,112.9 232,109.3 232.4,106.8 232.8,112.2 233.2,115.4 233.7,112.7 234.1,109 234.5,105.4 234.9,115.8 235.3,107.2 235.8,108.5 236.2,111.9 236.6,110.3 237,115.5 237.4,110 237.8,106.5 238.3,29.5 238.7,26.4 239.1,25 239.5,31.9 239.9,28.2 240.4,29.8 240.8,30.5 241.2,26 241.6,32.8 242,27 242.5,24.4 242.9,30.7 243.3,32.9 243.7,22.7 244.1,22.8 244.5,29.2 245,22.8 245.4,30.6 245.8,30.9 246.2,24.5 246.6,31.7 247.1,28.9 247.5,25.3 247.9,30.1 248.3,33.3 248.7,22.1 249.2,29.3 249.6,30.1 250,26.9 250.4,23 250.8,28.2 251.2,26.8"/>
</g>
<path d="M46.6 6.5H246.9M46.6 130.5H246.9M47 68.5h2.2M246.5 68.5h-2.2" stroke="#4a4a4a" stroke-width="1" fill="none"/>
<path d="M47 6.5V130.5M246.5 6.5V130.5M96.88 130.5v-2.2M96.88 6.5v2.2M146.75 130.5v-2.2M146.75 6.5v2.2M196.62 130.5v-2.2M196.62 6.5v2.2" stroke="#4a4a4a" stroke-width="0.8" fill="none"/>
<text class="tk" transform="translate(47 147) scale(0.8 1)" text-anchor="middle">0</text>
<text class="tk" transform="translate(96.88 147) scale(0.8 1)" text-anchor="middle">5</text>
<text class="tk" transform="translate(146.75 147) scale(0.8 1)" text-anchor="middle">10</text>
<text class="tk" transform="translate(196.62 147) scale(0.8 1)" text-anchor="middle">15</text>
<text class="tk" transform="translate(246.5 147) scale(0.8 1)" text-anchor="middle">20</text>
<text class="tk" transform="translate(44 135) scale(0.8 1)" text-anchor="end">−5</text>
<text class="tk" transform="translate(44 73) scale(0.8 1)" text-anchor="end">0</text>
<text class="tk" transform="translate(44 11) scale(0.8 1)" text-anchor="end">5</text>
<text class="lb" transform="translate(146.95 161.9) scale(0.83 1)" text-anchor="middle" font-size="14.3">Time</text>
<text class="lb" transform="translate(25.2 66.1) scale(0.76 1) rotate(-90)" text-anchor="middle" font-size="14.3" textLength="102.5" lengthAdjust="spacing">Force Amplitude</text>
<text class="pl" transform="translate(1.7 9.8) scale(0.8 1)">a)</text>
<path d="M317.1 6.5H518.9M317.1 130.5H518.9M317.5 109.83h2.2M518.5 109.83h-2.2M317.5 68.5h2.2M518.5 68.5h-2.2M317.5 27.17h2.2M518.5 27.17h-2.2" stroke="#4a4a4a" stroke-width="1" fill="none"/>
<path d="M317.5 6.5V130.5M518.5 6.5V130.5M367.75 130.5v-2.2M367.75 6.5v2.2M418 130.5v-2.2M418 6.5v2.2M468.25 130.5v-2.2M468.25 6.5v2.2" stroke="#4a4a4a" stroke-width="0.8" fill="none"/>
<text class="tk" transform="translate(317.5 147) scale(0.8 1)" text-anchor="middle">0</text>
<text class="tk" transform="translate(367.75 147) scale(0.8 1)" text-anchor="middle">5</text>
<text class="tk" transform="translate(418 147) scale(0.8 1)" text-anchor="middle">10</text>
<text class="tk" transform="translate(468.25 147) scale(0.8 1)" text-anchor="middle">15</text>
<text class="tk" transform="translate(518.5 147) scale(0.8 1)" text-anchor="middle">20</text>
<text class="tk" transform="translate(314.5 114.33) scale(0.8 1)" text-anchor="end">−1</text>
<text class="tk" transform="translate(314.5 73) scale(0.8 1)" text-anchor="end">0</text>
<text class="tk" transform="translate(314.5 31.67) scale(0.8 1)" text-anchor="end">1</text>
<text class="lb" transform="translate(418.2 161.9) scale(0.83 1)" text-anchor="middle" font-size="14.3">Time</text>
<text class="lb" transform="translate(297.3 66.6) scale(0.76 1) rotate(-90)" text-anchor="middle" font-size="14.3" textLength="50" lengthAdjust="spacing">Position</text>
<text class="pl" transform="translate(281.5 9.8) scale(0.8 1)">b)</text>
<g clip-path="url(#c10)">
<polyline fill="none" stroke="#000" stroke-width="1.5" transform="translate(47 0) scale(0.8 1)" points="0,215.2 0.3,223.4 0.6,229.5 0.8,253.8 1.1,259.5 1.4,238.9 1.7,249.5 1.9,217.4 2.2,257.4 2.5,207.7 2.8,264.8 3,242.4 3.3,224.4 3.6,251.6 3.9,208.6 4.2,254.6 4.4,224.8 4.7,239.9 5,219.6 5.3,207.1 5.5,268.5 5.8,231.6 6.1,227.4 6.4,253.5 6.7,244.6 6.9,232.6 7.2,239 7.5,265.4 7.8,247.3 8,254.3 8.3,212.3 8.6,216.6 8.9,266.7 9.1,219.7 9.4,207.8 9.7,204.2 10,264.9 10.3,212.5 10.5,240.8 10.8,210 11.1,226.1 11.4,233.5 11.6,267.9 11.9,204.9 12.2,267.2 12.5,206.5 12.7,221 13,210 13.3,216 13.6,244.2 13.9,232.1 14.1,214.1 14.4,224.9 14.7,222.4 15,250 15.2,223 15.5,225.7 15.8,214.2 16.1,239.6 16.3,223.4 16.6,226 16.9,231.8 17.2,253.3 17.5,245.2 17.7,205.2 18,261.2 18.3,225.1 18.6,211.8 18.8,234.2 19.1,221.1 19.4,240.2 19.7,265.2 19.9,213.5 20.2,259.1 20.5,233.2 20.8,236.8 21.1,259.8 21.3,255.6 21.6,255.9 21.9,240.8 22.2,254.4 22.4,234.8 22.7,232.7 23,247.1 23.3,207 23.6,264.7 23.8,259.9 24.1,258.7 24.4,266 24.7,226.6 24.9,264.1 25.2,221 25.5,208.4 25.8,258.8 26,238.1 26.3,252.2 26.6,223 26.9,234.7 27.2,255 27.4,256.6 27.7,239 28,219.5 28.3,258.2 28.5,235.6 28.8,267.5 29.1,228.7 29.4,232.7 29.6,257 29.9,225.4 30.2,262.7 30.5,246.7 30.8,255.5 31,212.8 31.3,217.4 31.6,219 31.9,210.3 32.1,212.3 32.4,253 32.7,250.6 33,224.6 33.3,256 33.5,239.1 33.8,243.3 34.1,220.5 34.4,260.9 34.6,250.7 34.9,254.8 35.2,243.1 35.5,222.3 35.7,223.2 36,243.1 36.3,253.6 36.6,230.4 36.9,253.2 37.1,223.6 37.4,243.4 37.7,220 38,251.1 38.2,215.7 38.5,264.9 38.8,228.2 39.1,212.3 39.3,234.3 39.6,252.3 39.9,214.7 40.2,210.7 40.5,253.2 40.7,250 41,259.3 41.3,249.4 41.6,268.2 41.8,264.7 42.1,234.2 42.4,220.4 42.7,238.9 42.9,253.2 43.2,219.2 43.5,263.1 43.8,267.1 44.1,237.4 44.3,257.9 44.6,250.1 44.9,241.8 45.2,251.3 45.4,244.4 45.7,244.2 46,214.4 46.3,238.7 46.6,271.7 46.8,272.2 47.1,221.5 47.4,216.9 47.7,250.5 47.9,238.8 48.2,266.5 48.5,274.3 48.8,238.2 49,252.4 49.3,213.7 49.6,272.6 49.9,238 50.2,262.2 50.4,230.4 50.7,254.6 51,272.6 51.3,224.5 51.5,241.4 51.8,274.8 52.1,228.1 52.4,254.4 52.6,242.2 52.9,248.5 53.2,216.5 53.5,219.1 53.8,231.1 54,241.8 54.3,227.5 54.6,224.5 54.9,269.6 55.1,260.6 55.4,256 55.7,278.9 56,262.9 56.2,232.6 56.5,251.6 56.8,241.8 57.1,274.2 57.4,232 57.6,267.5 57.9,267.8 58.2,243.7 58.5,272.1 58.7,214.8 59,262.1 59.3,243.1 59.6,255.6 59.8,272 60.1,216.1 60.4,251.3 60.7,223.3 61,254.9 61.2,256.5 61.5,225.8 61.8,263.5 62.1,269.6 62.3,232.1 62.6,222 62.9,253.9 63.2,217 63.5,263.5 63.7,244 64,229 64.3,238.3 64.6,257.5 64.8,225.5 65.1,252.5 65.4,234 65.7,227.6 65.9,252 66.2,265.4 66.5,270.2 66.8,264.4 67.1,271.7 67.3,217.7 67.6,224.3 67.9,217.2 68.2,246.1 68.4,229.3 68.7,220 69,233.5 69.3,268.1 69.5,272.6 69.8,274.2 70.1,230 70.4,243.4 70.7,260 70.9,266.5 71.2,274.2 71.5,247.8 71.8,219.9 72,226.6 72.3,251.5 72.6,245.8 72.9,238.1 73.2,232 73.4,224.3 73.7,246.2 74,232.9 74.3,230.8 74.5,256.6 74.8,268.7 75.1,212.2 75.4,273.6 75.6,262.1 75.9,259.1 76.2,215.8 76.5,254.5 76.8,209.6 77,239.8 77.3,241.7 77.6,267.8 77.9,230.5 78.1,218.1 78.4,242 78.7,227.1 79,269.3 79.2,245.5 79.5,239.5 79.8,226.7 80.1,209.5 80.4,257.8 80.6,247 80.9,234.8 81.2,212.9 81.5,263.9 81.7,215.8 82,253.2 82.3,230.3 82.6,250 82.8,232 83.1,241.3 83.4,209.7 83.7,267.2 84,231.5 84.2,265 84.5,229.6 84.8,241.8 85.1,215.6 85.3,218.2 85.6,263 85.9,208 86.2,233.1 86.4,233.5 86.7,220.3 87,228 87.3,207.8 87.6,222.9 87.8,248.4 88.1,211.1 88.4,248.5 88.7,266.7 88.9,259 89.2,235.3 89.5,238.9 89.8,225.5 90.1,257.6 90.3,255.5 90.6,248.6 90.9,229.7 91.2,222.7 91.4,213.2 91.7,242 92,254.3 92.3,253.2 92.5,215.4 92.8,209.2 93.1,253.8 93.4,230.6 93.7,248.1 93.9,262.6 94.2,243.3 94.5,227 94.8,236.4 95,207.8 95.3,248.4 95.6,255.7 95.9,244.1 96.1,256.1 96.4,240.3 96.7,231.7 97,234.4 97.3,216.9 97.5,216 97.8,263.2 98.1,244.5 98.4,265.2 98.6,214.6 98.9,245.3 99.2,250.8 99.5,225 99.8,204.8 100,245.2 100.3,264.4 100.6,258.3 100.9,263.1 101.1,216.7 101.4,252.5 101.7,218.7 102,213.3 102.2,266.7 102.5,235.9 102.8,203.4 103.1,214.8 103.4,224.1 103.6,246.9 103.9,237.4 104.2,208.5 104.5,266.4 104.7,222.9 105,250.2 105.3,257.5 105.6,229.5 105.8,212.1 106.1,240.7 106.4,211.5 106.7,208.8 107,228.7 107.2,236.4 107.5,213.7 107.8,205.1 108.1,243.2 108.3,260.7 108.6,234.5 108.9,251.7 109.2,209.4 109.4,227.9 109.7,221.7 110,220.8 110.3,230.4 110.6,235.5 110.8,212.4 111.1,227.8 111.4,214.6 111.7,208.9 111.9,216.1 112.2,244.3 112.5,207.9 112.8,259 113,220.2 113.3,246.8 113.6,255.4 113.9,221.2 114.2,251.2 114.4,226.2 114.7,251.7 115,264 115.3,258.3 115.5,253.6 115.8,211.3 116.1,222.1 116.4,234.3 116.7,229.2 116.9,252.2 117.2,267 117.5,214.2 117.8,219.7 118,242.2 118.3,254.4 118.6,236.1 118.9,262.1 119.1,266.3 119.4,228.4 119.7,224.5 120,265.5 120.3,221.8 120.5,233.4 120.8,271.2 121.1,213.2 121.4,266.8 121.6,251.9 121.9,267.8 122.2,252.7 122.5,251.7 122.7,271.6 123,215.8 123.3,273 123.6,213.9 123.9,270.5 124.1,272.5 124.4,227.9 124.7,252 125,247.5 125.2,275.2 125.5,227.5 125.8,217.1 126.1,235.5 126.3,253.6 126.6,221.5 126.9,242.4 127.2,232.4 127.5,264.3 127.7,268.4 128,255.4 128.3,255.8 128.6,245.4 128.8,220.3 129.1,215 129.4,218.8 129.7,238.3 130,244.8 130.2,219.8 130.5,232.4 130.8,229.9 131.1,246.3 131.3,251.3 131.6,243.5 131.9,214.9 132.2,252 132.4,278.5 132.7,266.8 133,264.7 133.3,247.1 133.6,260.9 133.8,253.3 134.1,269.1 134.4,231.7 134.7,264.8 134.9,268.6 135.2,215.2 135.5,264.4 135.8,221.1 136,269.8 136.3,241.8 136.6,251 136.9,273.8 137.2,238.3 137.4,247.8 137.7,246.3 138,248.8 138.3,218.5 138.5,243.2 138.8,225.9 139.1,232.6 139.4,243.3 139.7,254.4 139.9,217.1 140.2,248.7 140.5,238.3 140.8,216.1 141,218.8 141.3,272.4 141.6,231.8 141.9,227.8 142.1,277.5 142.4,224.8 142.7,277.6 143,244.2 143.3,233.8 143.5,257.7 143.8,223.2 144.1,242 144.4,249.5 144.6,223.3 144.9,236.1 145.2,269.1 145.5,238.8 145.7,250 146,260.3 146.3,262.7 146.6,255.9 146.9,233 147.1,259.6 147.4,247.8 147.7,272.3 148,228.1 148.2,243.7 148.5,219.9 148.8,272.3 149.1,232.8 149.3,274.5 149.6,260.2 149.9,249.8 150.2,239.1 150.5,251 150.7,263.2 151,256.4 151.3,264.9 151.6,224.4 151.8,219.4 152.1,245.2 152.4,228.9 152.7,237.2 153,230.8 153.2,231.9 153.5,216.2 153.8,234.3 154.1,221.5 154.3,219.6 154.6,209.7 154.9,257.7 155.2,231.2 155.4,239.8 155.7,243.8 156,266.3 156.3,257.8 156.6,225.6 156.8,236.4 157.1,253.3 157.4,247.2 157.7,270.8 157.9,224.6 158.2,233.5 158.5,241.3 158.8,253.9 159,219.6 159.3,257.9 159.6,250.5 159.9,269.1 160.2,261 160.4,268.2 160.7,248.2 161,243 161.3,235.3 161.5,227.6 161.8,269.9 162.1,259.2 162.4,253.4 162.6,218.2 162.9,231.1 163.2,206.5 163.5,253.2 163.8,264.6 164,213.2 164.3,257 164.6,263.2 164.9,229.5 165.1,235.1 165.4,217.3 165.7,242 166,212.3 166.3,243.8 166.5,228.9 166.8,208.8 167.1,250.4 167.4,228 167.6,228.9 167.9,265.4 168.2,210.1 168.5,249.8 168.7,222.7 169,251 169.3,261.4 169.6,254.3 169.9,239 170.1,226.4 170.4,229.6 170.7,213.7 171,205.4 171.2,237.5 171.5,230.3 171.8,207.4 172.1,219 172.3,203 172.6,257.6 172.9,244.7 173.2,255.4 173.5,213.8 173.7,206.3 174,219.6 174.3,253.8 174.6,245.2 174.8,254.2 175.1,222.7 175.4,203.5 175.7,228.1 175.9,206.5 176.2,256.5 176.5,263.3 176.8,203.8 177.1,255.5 177.3,252.4 177.6,264.9 177.9,204.6 178.2,240.1 178.4,231.2 178.7,241.9 179,220.3 179.3,223.1 179.5,234.4 179.8,243 180.1,263.1 180.4,255 180.7,252.3 180.9,231.1 181.2,223 181.5,261.7 181.8,241.7 182,233.3 182.3,212.8 182.6,213.1 182.9,250.4 183.2,255.4 183.4,220.8 183.7,214.5 184,217.7 184.3,236.7 184.5,267.4 184.8,233.6 185.1,231.6 185.4,264 185.6,226.5 185.9,218.1 186.2,247.7 186.5,249.1 186.8,261.5 187,236.9 187.3,265.9 187.6,246.3 187.9,217.4 188.1,241.5 188.4,223.8 188.7,229.1 189,251 189.2,269.2 189.5,218.5 189.8,223.6 190.1,237.5 190.4,212.2 190.6,215.3 190.9,238.9 191.2,255.2 191.5,255.6 191.7,249.7 192,233 192.3,244 192.6,271.1 192.8,234.4 193.1,228.7 193.4,223.9 193.7,266.5 194,245.2 194.2,258.6 194.5,210.9 194.8,213.3 195.1,237.3 195.3,217 195.6,250.9 195.9,235.4 196.2,267 196.5,254 196.7,268.4 197,253.7 197.3,212.9 197.6,266.3 197.8,256.3 198.1,262.4 198.4,243.4 198.7,233.6 198.9,257.8 199.2,217 199.5,224 199.8,229.5 200.1,264.6 200.3,261.2 200.6,241.5 200.9,264.5 201.2,249.2 201.4,269.1 201.7,240.9 202,227 202.3,236 202.5,251.9 202.8,260.2 203.1,224.3 203.4,266.6 203.7,250.5 203.9,218 204.2,240.5 204.5,218 204.8,268.2 205,245.9 205.3,248 205.6,234.2 205.9,226.4 206.2,276.6 206.4,254.7 206.7,235.4 207,270.9 207.3,276.4 207.5,214.8 207.8,273.5 208.1,222 208.4,233.6 208.6,269.6 208.9,270.1 209.2,223.2 209.5,221.9 209.8,251 210,221.4 210.3,245.1 210.6,275.1 210.9,270.9 211.1,215.1 211.4,276.7 211.7,216.3 212,255.5 212.2,264.3 212.5,250.2 212.8,257.3 213.1,230 213.4,246 213.6,233.1 213.9,276.7 214.2,237.1 214.5,244.8 214.7,229.7 215,259.1 215.3,248.5 215.6,237.8 215.8,225.3 216.1,230.6 216.4,240.2 216.7,214.8 217,248.9 217.2,231.4 217.5,262.7 217.8,270 218.1,222.6 218.3,229.1 218.6,255.3 218.9,260 219.2,235.6 219.5,226.2 219.7,258.4 220,253.3 220.3,250.5 220.6,249.3 220.8,221.5 221.1,226.2 221.4,217.4 221.7,269.3 221.9,228.3 222.2,220.9 222.5,251.4 222.8,235.9 223.1,272.9 223.3,224.3 223.6,261.6 223.9,268.1 224.2,254.1 224.4,264.3 224.7,213.1 225,253.1 225.3,239.4 225.5,267.2 225.8,274.8 226.1,244.7 226.4,240.5 226.7,234.5 226.9,262.8 227.2,236.9 227.5,270.5 227.8,242.9 228,235.9 228.3,220.7 228.6,271.8 228.9,244.7 229.1,218 229.4,227.1 229.7,265 230,215.5 230.3,238.2 230.5,259.2 230.8,214.5 231.1,214.6 231.4,243.9 231.6,217.8 231.9,252.6 232.2,267.7 232.5,221.5 232.8,254.5 233,251.8 233.3,245.1 233.6,243.8 233.9,250 234.1,221.6 234.4,256.2 234.7,254.6 235,250 235.2,220.3 235.5,244.6 235.8,245.1 236.1,268.7 236.4,232.3 236.6,211 236.9,251.2 237.2,213.3 237.5,255.2 237.7,254 238,239.5 238.3,234.7 238.6,252.9 238.8,238.4 239.1,233.6 239.4,236.9 239.7,231.9 240,241.5 240.2,226.8 240.5,266.8 240.8,244.2 241.1,207.3 241.3,267.9 241.6,242.6 241.9,218.5 242.2,223.5 242.4,212.6 242.7,223.1 243,228.2 243.3,261.1 243.6,249.1 243.8,244.8 244.1,227.3 244.4,227.9 244.7,209.2 244.9,253.4 245.2,262.8 245.5,214.2 245.8,213.3 246,206 246.3,223 246.6,261.6 246.9,253.6 247.2,222 247.4,219.4 247.7,241.5 248,255 248.3,224.7 248.5,206.1 248.8,220.9 249.1,257.8 249.4,247.2"/>
<polyline fill="none" stroke="#f00" stroke-width="3" stroke-dasharray="6.5 2.5 6.5 6" stroke-dashoffset="7.25" points="47,240.7 47.2,240.5 47.5,240.4 47.7,240.2 48,240.1 48.2,239.9 48.5,239.8 48.7,239.6 49,239.5 49.2,239.3 49.5,239.2 49.7,239 50,238.9 50.2,238.7 50.5,238.6 50.7,238.4 51,238.3 51.2,238.1 51.5,238 51.7,237.9 52,237.7 52.2,237.6 52.5,237.5 52.7,237.3 53,237.2 53.2,237.1 53.5,236.9 53.7,236.8 54,236.7 54.2,236.6 54.5,236.5 54.7,236.4 55,236.2 55.2,236.1 55.5,236 55.7,235.9 56,235.8 56.2,235.7 56.5,235.6 56.7,235.6 57,235.5 57.2,235.4 57.5,235.3 57.7,235.2 58,235.2 58.2,235.1 58.5,235 58.7,235 59,234.9 59.2,234.9 59.5,234.8 59.7,234.8 60,234.7 60.2,234.7 60.5,234.6 60.7,234.6 61,234.6 61.2,234.6 61.5,234.5 61.7,234.5 62,234.5 62.2,234.5 62.5,234.5 62.7,234.5 63,234.5 63.2,234.5 63.5,234.5 63.7,234.5 64,234.5 64.2,234.6 64.5,234.6 64.7,234.6 65,234.7 65.2,234.7 65.5,234.7 65.7,234.8 66,234.8 66.2,234.9 66.5,234.9 66.7,235 67,235.1 67.2,235.1 67.4,235.2 67.7,235.3 67.9,235.3 68.2,235.4 68.4,235.5 68.7,235.6 68.9,235.7 69.2,235.8 69.4,235.9 69.7,236 69.9,236.1 70.2,236.2 70.4,236.3 70.7,236.4 70.9,236.5 71.2,236.6 71.4,236.7 71.7,236.9 71.9,237 72.2,237.1 72.4,237.2 72.7,237.4 72.9,237.5 73.2,237.6 73.4,237.8 73.7,237.9 73.9,238 74.2,238.2 74.4,238.3 74.7,238.5 74.9,238.6 75.2,238.8 75.4,238.9 75.7,239.1 75.9,239.2 76.2,239.4 76.4,239.5 76.7,239.7 76.9,239.8 77.2,240 77.4,240.1 77.7,240.3 77.9,240.4 78.2,240.6 78.4,240.8 78.7,240.9 78.9,241.1 79.2,241.2 79.4,241.4 79.7,241.5 79.9,241.7 80.2,241.8 80.4,242 80.7,242.1 80.9,242.3 81.2,242.4 81.4,242.6 81.7,242.7 81.9,242.9 82.2,243 82.4,243.2 82.7,243.3 82.9,243.4 83.2,243.6 83.4,243.7 83.7,243.9 83.9,244 84.2,244.1 84.4,244.2 84.7,244.4 84.9,244.5 85.2,244.6 85.4,244.7 85.7,244.9 85.9,245 86.2,245.1 86.4,245.2 86.7,245.3 86.9,245.4 87.1,245.5 87.4,245.6 87.6,245.7 87.9,245.8 88.1,245.9 88.4,246 88.6,246 88.9,246.1 89.1,246.2 89.4,246.3 89.6,246.3 89.9,246.4 90.1,246.4 90.4,246.5 90.6,246.6 90.9,246.6 91.1,246.7 91.4,246.7 91.6,246.7 91.9,246.8 92.1,246.8 92.4,246.8 92.6,246.9 92.9,246.9 93.1,246.9 93.4,246.9 93.6,246.9 93.9,246.9 94.1,246.9 94.4,246.9 94.6,246.9 94.9,246.9 95.1,246.9 95.4,246.9 95.6,246.8 95.9,246.8 96.1,246.8 96.4,246.7 96.6,246.7 96.9,246.7 97.1,246.6 97.4,246.6 97.6,246.5 97.9,246.4 98.1,246.4 98.4,246.3 98.6,246.3 98.9,246.2 99.1,246.1 99.4,246 99.6,246 99.9,245.9 100.1,245.8 100.4,245.7 100.6,245.6 100.9,245.5 101.1,245.4 101.4,245.3 101.6,245.2 101.9,245.1 102.1,245 102.4,244.9 102.6,244.7 102.9,244.6 103.1,244.5 103.4,244.4 103.6,244.2 103.9,244.1 104.1,244 104.4,243.9 104.6,243.7 104.9,243.6 105.1,243.4 105.4,243.3 105.6,243.2 105.9,243 106.1,242.9 106.4,242.7 106.6,242.6 106.8,242.4 107.1,242.3 107.3,242.1 107.6,242 107.8,241.8 108.1,241.7 108.3,241.5 108.6,241.4 108.8,241.2 109.1,241.1 109.3,240.9 109.6,240.8 109.8,240.6 110.1,240.4 110.3,240.3 110.6,240.1 110.8,240 111.1,239.8 111.3,239.7 111.6,239.5 111.8,239.4 112.1,239.2 112.3,239.1 112.6,238.9 112.8,238.8 113.1,238.6 113.3,238.5 113.6,238.3 113.8,238.2 114.1,238 114.3,237.9 114.6,237.8 114.8,237.6 115.1,237.5 115.3,237.4 115.6,237.2 115.8,237.1 116.1,237 116.3,236.9 116.6,236.7 116.8,236.6 117.1,236.5 117.3,236.4 117.6,236.3 117.8,236.2 118.1,236.1 118.3,236 118.6,235.9 118.8,235.8 119.1,235.7 119.3,235.6 119.6,235.5 119.8,235.4 120.1,235.3 120.3,235.3 120.6,235.2 120.8,235.1 121.1,235.1 121.3,235 121.6,234.9 121.8,234.9 122.1,234.8 122.3,234.8 122.6,234.7 122.8,234.7 123.1,234.7 123.3,234.6 123.6,234.6 123.8,234.6 124.1,234.5 124.3,234.5 124.6,234.5 124.8,234.5 125.1,234.5 125.3,234.5 125.6,234.5 125.8,234.5 126.1,234.5 126.3,234.5 126.6,234.5 126.8,234.6 127,234.6 127.3,234.6 127.5,234.6 127.8,234.7 128,234.7 128.3,234.8 128.5,234.8 128.8,234.9 129,234.9 129.3,235 129.5,235 129.8,235.1 130,235.2 130.3,235.2 130.5,235.3 130.8,235.4 131,235.5 131.3,235.6 131.5,235.6 131.8,235.7 132,235.8 132.3,235.9 132.5,236 132.8,236.1 133,236.2 133.3,236.4 133.5,236.5 133.8,236.6 134,236.7 134.3,236.8 134.5,236.9 134.8,237.1 135,237.2 135.3,237.3 135.5,237.5 135.8,237.6 136,237.7 136.3,237.9 136.5,238 136.8,238.1 137,238.3 137.3,238.4 137.5,238.6 137.8,238.7 138,238.9 138.3,239 138.5,239.2 138.8,239.3 139,239.5 139.3,239.6 139.5,239.8 139.8,239.9 140,240.1 140.3,240.2 140.5,240.4 140.8,240.5 141,240.7 141.3,240.9 141.5,241 141.8,241.2 142,241.3 142.3,241.5 142.5,241.6 142.8,241.8 143,241.9 143.3,242.1 143.5,242.2 143.8,242.4 144,242.5 144.3,242.7 144.5,242.8 144.8,243 145,243.1 145.3,243.3 145.5,243.4 145.8,243.5 146,243.7 146.3,243.8 146.5,243.9 146.8,244.1 147,244.2 147.2,244.3 147.5,244.5 147.7,244.6 148,244.7 148.2,244.8 148.5,244.9 148.7,245 149,245.2 149.2,245.3 149.5,245.4 149.7,245.5 150,245.6 150.2,245.7 150.5,245.8 150.7,245.8 151,245.9 151.2,246 151.5,246.1 151.7,246.2 152,246.2 152.2,246.3 152.5,246.4 152.7,246.4 153,246.5 153.2,246.5 153.5,246.6 153.7,246.6 154,246.7 154.2,246.7 154.5,246.8 154.7,246.8 155,246.8 155.2,246.8 155.5,246.9 155.7,246.9 156,246.9 156.2,246.9 156.5,246.9 156.7,246.9 157,246.9 157.2,246.9 157.5,246.9 157.7,246.9 158,246.9 158.2,246.8 158.5,246.8 158.7,246.8 159,246.7 159.2,246.7 159.5,246.7 159.7,246.6 160,246.6 160.2,246.5 160.5,246.5 160.7,246.4 161,246.3 161.2,246.3 161.5,246.2 161.7,246.1 162,246.1 162.2,246 162.5,245.9 162.7,245.8 163,245.7 163.2,245.6 163.5,245.5 163.7,245.4 164,245.3 164.2,245.2 164.5,245.1 164.7,245 165,244.9 165.2,244.8 165.5,244.7 165.7,244.5 166,244.4 166.2,244.3 166.5,244.2 166.7,244 166.9,243.9 167.2,243.8 167.4,243.6 167.7,243.5 167.9,243.4 168.2,243.2 168.4,243.1 168.7,242.9 168.9,242.8 169.2,242.6 169.4,242.5 169.7,242.3 169.9,242.2 170.2,242 170.4,241.9 170.7,241.7 170.9,241.6 171.2,241.4 171.4,241.3 171.7,241.1 171.9,241 172.2,240.8 172.4,240.6 172.7,240.5 172.9,240.3 173.2,240.2 173.4,240 173.7,239.9 173.9,239.7 174.2,239.6 174.4,239.4 174.7,239.3 174.9,239.1 175.2,239 175.4,238.8 175.7,238.7 175.9,238.5 176.2,238.4 176.4,238.2 176.7,238.1 176.9,238 177.2,237.8 177.4,237.7 177.7,237.5 177.9,237.4 178.2,237.3 178.4,237.1 178.7,237 178.9,236.9 179.2,236.8 179.4,236.7 179.7,236.5 179.9,236.4 180.2,236.3 180.4,236.2 180.7,236.1 180.9,236 181.2,235.9 181.4,235.8 181.7,235.7 181.9,235.6 182.2,235.5 182.4,235.4 182.7,235.4 182.9,235.3 183.2,235.2 183.4,235.1 183.7,235.1 183.9,235 184.2,234.9 184.4,234.9 184.7,234.8 184.9,234.8 185.2,234.7 185.4,234.7 185.7,234.7 185.9,234.6 186.2,234.6 186.4,234.6 186.6,234.5 186.9,234.5 187.1,234.5 187.4,234.5 187.6,234.5 187.9,234.5 188.1,234.5 188.4,234.5 188.6,234.5 188.9,234.5 189.1,234.5 189.4,234.5 189.6,234.6 189.9,234.6 190.1,234.6 190.4,234.7 190.6,234.7 190.9,234.7 191.1,234.8 191.4,234.8 191.6,234.9 191.9,235 192.1,235 192.4,235.1 192.6,235.1 192.9,235.2 193.1,235.3 193.4,235.4 193.6,235.4 193.9,235.5 194.1,235.6 194.4,235.7 194.6,235.8 194.9,235.9 195.1,236 195.4,236.1 195.6,236.2 195.9,236.3 196.1,236.4 196.4,236.5 196.6,236.7 196.9,236.8 197.1,236.9 197.4,237 197.6,237.2 197.9,237.3 198.1,237.4 198.4,237.5 198.6,237.7 198.9,237.8 199.1,238 199.4,238.1 199.6,238.2 199.9,238.4 200.1,238.5 200.4,238.7 200.6,238.8 200.9,239 201.1,239.1 201.4,239.3 201.6,239.4 201.9,239.6 202.1,239.7 202.4,239.9 202.6,240 202.9,240.2 203.1,240.3 203.4,240.5 203.6,240.7 203.9,240.8 204.1,241 204.4,241.1 204.6,241.3 204.9,241.4 205.1,241.6 205.4,241.7 205.6,241.9 205.9,242 206.1,242.2 206.4,242.3 206.6,242.5 206.8,242.6 207.1,242.8 207.3,242.9 207.6,243.1 207.8,243.2 208.1,243.4 208.3,243.5 208.6,243.6 208.8,243.8 209.1,243.9 209.3,244 209.6,244.2 209.8,244.3 210.1,244.4 210.3,244.5 210.6,244.7 210.8,244.8 211.1,244.9 211.3,245 211.6,245.1 211.8,245.2 212.1,245.3 212.3,245.4 212.6,245.5 212.8,245.6 213.1,245.7 213.3,245.8 213.6,245.9 213.8,246 214.1,246.1 214.3,246.1 214.6,246.2 214.8,246.3 215.1,246.3 215.3,246.4 215.6,246.5 215.8,246.5 216.1,246.6 216.3,246.6 216.6,246.7 216.8,246.7 217.1,246.7 217.3,246.8 217.6,246.8 217.8,246.8 218.1,246.9 218.3,246.9 218.6,246.9 218.8,246.9 219.1,246.9 219.3,246.9 219.6,246.9 219.8,246.9 220.1,246.9 220.3,246.9 220.6,246.9 220.8,246.8 221.1,246.8 221.3,246.8 221.6,246.8 221.8,246.7 222.1,246.7 222.3,246.6 222.6,246.6 222.8,246.5 223.1,246.5 223.3,246.4 223.6,246.4 223.8,246.3 224.1,246.2 224.3,246.2 224.6,246.1 224.8,246 225.1,245.9 225.3,245.8 225.6,245.7 225.8,245.7 226.1,245.6 226.3,245.5 226.6,245.4 226.8,245.3 227,245.2 227.3,245 227.5,244.9 227.8,244.8 228,244.7 228.3,244.6 228.5,244.5 228.8,244.3 229,244.2 229.3,244.1 229.5,243.9 229.8,243.8 230,243.7 230.3,243.5 230.5,243.4 230.8,243.3 231,243.1 231.3,243 231.5,242.8 231.8,242.7 232,242.5 232.3,242.4 232.5,242.2 232.8,242.1 233,241.9 233.3,241.8 233.5,241.6 233.8,241.5 234,241.3 234.3,241.2 234.5,241 234.8,240.9 235,240.7 235.3,240.5 235.5,240.4 235.8,240.2 236,240.1 236.3,239.9 236.5,239.8 236.8,239.6 237,239.5 237.3,239.3 237.5,239.2 237.8,239 238,238.9 238.3,238.7 238.5,238.6 238.8,238.4 239,238.3 239.3,238.1 239.5,238 239.8,237.9 240,237.7 240.3,237.6 240.5,237.5 240.8,237.3 241,237.2 241.3,237.1 241.5,236.9 241.8,236.8 242,236.7 242.3,236.6 242.5,236.5 242.8,236.4 243,236.2 243.3,236.1 243.5,236 243.8,235.9 244,235.8 244.3,235.7 244.5,235.6 244.8,235.6 245,235.5 245.3,235.4 245.5,235.3 245.8,235.2 246,235.2 246.3,235.1 246.5,235"/>
</g>
<g clip-path="url(#c11)">
<polyline fill="none" stroke="#f7b0b0" stroke-width="0.9" points="317.5,240.7 317.8,240.4 318,240.2 318.3,239.9 318.5,239.7 318.8,239.4 319,239.2 319.3,238.9 319.5,238.6 319.8,238.4 320,238.1 320.3,237.9 320.5,237.6 320.8,237.4 321,237.2 321.3,236.9 321.5,236.7 321.8,236.4 322,236.2 322.3,236 322.5,235.7 322.8,235.5 323,235.3 323.3,235.1 323.5,234.9 323.8,234.6 324,234.4 324.3,234.2 324.5,234 324.8,233.8 325,233.6 325.3,233.5 325.5,233.3 325.8,233.1 326,232.9 326.3,232.8 326.5,232.6 326.8,232.4 327,232.3 327.3,232.1 327.6,232 327.8,231.9 328.1,231.7 328.3,231.6 328.6,231.5 328.8,231.4 329.1,231.3 329.3,231.2 329.6,231.1 329.8,231 330.1,230.9 330.3,230.8 330.6,230.7 330.8,230.7 331.1,230.6 331.3,230.5 331.6,230.5 331.8,230.5 332.1,230.4 332.3,230.4 332.6,230.4 332.8,230.4 333.1,230.4 333.3,230.4 333.6,230.4 333.8,230.4 334.1,230.4 334.3,230.4 334.6,230.4 334.8,230.5 335.1,230.5 335.3,230.6 335.6,230.6 335.8,230.7 336.1,230.8 336.3,230.8 336.6,230.9 336.8,231 337.1,231.1 337.3,231.2 337.6,231.3 337.9,231.4 338.1,231.5 338.4,231.6 338.6,231.8 338.9,231.9 339.1,232 339.4,232.2 339.6,232.3 339.9,232.5 340.1,232.6 340.4,232.8 340.6,233 340.9,233.2 341.1,233.3 341.4,233.5 341.6,233.7 341.9,233.9 342.1,234.1 342.4,234.3 342.6,234.5 342.9,234.7 343.1,234.9 343.4,235.1 343.6,235.4 343.9,235.6 344.1,235.8 344.4,236 344.6,236.3 344.9,236.5 345.1,236.7 345.4,237 345.6,237.2 345.9,237.5 346.1,237.7 346.4,238 346.6,238.2 346.9,238.5 347.1,238.7 347.4,239 347.6,239.2 347.9,239.5 348.2,239.8 348.4,240 348.7,240.3 348.9,240.5 349.2,240.8 349.4,241 349.7,241.3 349.9,241.6 350.2,241.8 350.4,242.1 350.7,242.3 350.9,242.6 351.2,242.8 351.4,243.1 351.7,243.3 351.9,243.6 352.2,243.8 352.4,244.1 352.7,244.3 352.9,244.6 353.2,244.8 353.4,245 353.7,245.3 353.9,245.5 354.2,245.7 354.4,246 354.7,246.2 354.9,246.4 355.2,246.6 355.4,246.8 355.7,247 355.9,247.2 356.2,247.4 356.4,247.6 356.7,247.8 356.9,248 357.2,248.2 357.4,248.4 357.7,248.5 358,248.7 358.2,248.9 358.5,249 358.7,249.2 359,249.3 359.2,249.5 359.5,249.6 359.7,249.7 360,249.8 360.2,250 360.5,250.1 360.7,250.2 361,250.3 361.2,250.4 361.5,250.5 361.7,250.5 362,250.6 362.2,250.7 362.5,250.8 362.7,250.8 363,250.9 363.2,250.9 363.5,251 363.7,251 364,251 364.2,251 364.5,251 364.7,251 365,251 365.2,251 365.5,251 365.7,251 366,251 366.2,251 366.5,250.9 366.7,250.9 367,250.8 367.2,250.8 367.5,250.7 367.8,250.6 368,250.5 368.3,250.5 368.5,250.4 368.8,250.3 369,250.2 369.3,250.1 369.5,250 369.8,249.8 370,249.7 370.3,249.6 370.5,249.5 370.8,249.3 371,249.2 371.3,249 371.5,248.9 371.8,248.7 372,248.5 372.3,248.4 372.5,248.2 372.8,248 373,247.8 373.3,247.6 373.5,247.4 373.8,247.2 374,247 374.3,246.8 374.5,246.6 374.8,246.4 375,246.2 375.3,246 375.5,245.7 375.8,245.5 376,245.3 376.3,245 376.5,244.8 376.8,244.6 377,244.3 377.3,244.1 377.5,243.8 377.8,243.6 378.1,243.3 378.3,243.1 378.6,242.8 378.8,242.6 379.1,242.3 379.3,242.1 379.6,241.8 379.8,241.6 380.1,241.3 380.3,241 380.6,240.8 380.8,240.5 381.1,240.3 381.3,240 381.6,239.8 381.8,239.5 382.1,239.2 382.3,239 382.6,238.7 382.8,238.5 383.1,238.2 383.3,238 383.6,237.7 383.8,237.5 384.1,237.2 384.3,237 384.6,236.7 384.8,236.5 385.1,236.3 385.3,236 385.6,235.8 385.8,235.6 386.1,235.4 386.3,235.1 386.6,234.9 386.8,234.7 387.1,234.5 387.3,234.3 387.6,234.1 387.9,233.9 388.1,233.7 388.4,233.5 388.6,233.3 388.9,233.2 389.1,233 389.4,232.8 389.6,232.6 389.9,232.5 390.1,232.3 390.4,232.2 390.6,232 390.9,231.9 391.1,231.8 391.4,231.6 391.6,231.5 391.9,231.4 392.1,231.3 392.4,231.2 392.6,231.1 392.9,231 393.1,230.9 393.4,230.8 393.6,230.8 393.9,230.7 394.1,230.6 394.4,230.6 394.6,230.5 394.9,230.5 395.1,230.4 395.4,230.4 395.6,230.4 395.9,230.4 396.1,230.4 396.4,230.4 396.6,230.4 396.9,230.4 397.1,230.4 397.4,230.4 397.6,230.4 397.9,230.5 398.2,230.5 398.4,230.5 398.7,230.6 398.9,230.7 399.2,230.7 399.4,230.8 399.7,230.9 399.9,231 400.2,231.1 400.4,231.2 400.7,231.3 400.9,231.4 401.2,231.5 401.4,231.6 401.7,231.7 401.9,231.9 402.2,232 402.4,232.1 402.7,232.3 402.9,232.4 403.2,232.6 403.4,232.8 403.7,232.9 403.9,233.1 404.2,233.3 404.4,233.5 404.7,233.6 404.9,233.8 405.2,234 405.4,234.2 405.7,234.4 405.9,234.6 406.2,234.9 406.4,235.1 406.7,235.3 406.9,235.5 407.2,235.7 407.4,236 407.7,236.2 407.9,236.4 408.2,236.7 408.5,236.9 408.7,237.2 409,237.4 409.2,237.6 409.5,237.9 409.7,238.1 410,238.4 410.2,238.6 410.5,238.9 410.7,239.2 411,239.4 411.2,239.7 411.5,239.9 411.7,240.2 412,240.4 412.2,240.7 412.5,241 412.7,241.2 413,241.5 413.2,241.7 413.5,242 413.7,242.2 414,242.5 414.2,242.8 414.5,243 414.7,243.3 415,243.5 415.2,243.8 415.5,244 415.7,244.3 416,244.5 416.2,244.7 416.5,245 416.7,245.2 417,245.4 417.2,245.7 417.5,245.9 417.7,246.1 418,246.3 418.3,246.5 418.5,246.8 418.8,247 419,247.2 419.3,247.4 419.5,247.6 419.8,247.8 420,247.9 420.3,248.1 420.5,248.3 420.8,248.5 421,248.6 421.3,248.8 421.5,249 421.8,249.1 422,249.3 422.3,249.4 422.5,249.5 422.8,249.7 423,249.8 423.3,249.9 423.5,250 423.8,250.1 424,250.3 424.3,250.3 424.5,250.4 424.8,250.5 425,250.6 425.3,250.7 425.5,250.7 425.8,250.8 426,250.9 426.3,250.9 426.5,250.9 426.8,251 427,251 427.3,251 427.5,251 427.8,251 428.1,251 428.3,251 428.6,251 428.8,251 429.1,251 429.3,251 429.6,250.9 429.8,250.9 430.1,250.8 430.3,250.8 430.6,250.7 430.8,250.6 431.1,250.6 431.3,250.5 431.6,250.4 431.8,250.3 432.1,250.2 432.3,250.1 432.6,250 432.8,249.9 433.1,249.8 433.3,249.6 433.6,249.5 433.8,249.4 434.1,249.2 434.3,249.1 434.6,248.9 434.8,248.8 435.1,248.6 435.3,248.4 435.6,248.2 435.8,248.1 436.1,247.9 436.3,247.7 436.6,247.5 436.8,247.3 437.1,247.1 437.3,246.9 437.6,246.7 437.8,246.5 438.1,246.3 438.4,246 438.6,245.8 438.9,245.6 439.1,245.4 439.4,245.1 439.6,244.9 439.9,244.6 440.1,244.4 440.4,244.2 440.6,243.9 440.9,243.7 441.1,243.4 441.4,243.2 441.6,242.9 441.9,242.7 442.1,242.4 442.4,242.2 442.6,241.9 442.9,241.6 443.1,241.4 443.4,241.1 443.6,240.9 443.9,240.6 444.1,240.4 444.4,240.1 444.6,239.8 444.9,239.6 445.1,239.3 445.4,239.1 445.6,238.8 445.9,238.6 446.1,238.3 446.4,238.1 446.6,237.8 446.9,237.6 447.1,237.3 447.4,237.1 447.6,236.8 447.9,236.6 448.1,236.4 448.4,236.1 448.7,235.9 448.9,235.7 449.2,235.4 449.4,235.2 449.7,235 449.9,234.8 450.2,234.6 450.4,234.4 450.7,234.2 450.9,234 451.2,233.8 451.4,233.6 451.7,233.4 451.9,233.2 452.2,233 452.4,232.9 452.7,232.7 452.9,232.5 453.2,232.4 453.4,232.2 453.7,232.1 453.9,231.9 454.2,231.8 454.4,231.7 454.7,231.6 454.9,231.4 455.2,231.3 455.4,231.2 455.7,231.1 455.9,231 456.2,230.9 456.4,230.9 456.7,230.8 456.9,230.7 457.2,230.6 457.4,230.6 457.7,230.5 457.9,230.5 458.2,230.4 458.5,230.4 458.7,230.4 459,230.4 459.2,230.4 459.5,230.4 459.7,230.4 460,230.4 460.2,230.4 460.5,230.4 460.7,230.4 461,230.4 461.2,230.5 461.5,230.5 461.7,230.6 462,230.6 462.2,230.7 462.5,230.8 462.7,230.9 463,230.9 463.2,231 463.5,231.1 463.7,231.2 464,231.3 464.2,231.4 464.5,231.6 464.7,231.7 465,231.8 465.2,231.9 465.5,232.1 465.7,232.2 466,232.4 466.2,232.5 466.5,232.7 466.7,232.9 467,233 467.2,233.2 467.5,233.4 467.7,233.6 468,233.8 468.2,234 468.5,234.2 468.8,234.4 469,234.6 469.3,234.8 469.5,235 469.8,235.2 470,235.4 470.3,235.7 470.5,235.9 470.8,236.1 471,236.4 471.3,236.6 471.5,236.8 471.8,237.1 472,237.3 472.3,237.6 472.5,237.8 472.8,238.1 473,238.3 473.3,238.6 473.5,238.8 473.8,239.1 474,239.3 474.3,239.6 474.5,239.8 474.8,240.1 475,240.4 475.3,240.6 475.5,240.9 475.8,241.1 476,241.4 476.3,241.7 476.5,241.9 476.8,242.2 477,242.4 477.3,242.7 477.5,242.9 477.8,243.2 478,243.4 478.3,243.7 478.6,243.9 478.8,244.2 479.1,244.4 479.3,244.7 479.6,244.9 479.8,245.1 480.1,245.4 480.3,245.6 480.6,245.8 480.8,246 481.1,246.3 481.3,246.5 481.6,246.7 481.8,246.9 482.1,247.1 482.3,247.3 482.6,247.5 482.8,247.7 483.1,247.9 483.3,248.1 483.6,248.2 483.8,248.4 484.1,248.6 484.3,248.8 484.6,248.9 484.8,249.1 485.1,249.2 485.3,249.4 485.6,249.5 485.8,249.6 486.1,249.8 486.3,249.9 486.6,250 486.8,250.1 487.1,250.2 487.3,250.3 487.6,250.4 487.8,250.5 488.1,250.6 488.4,250.7 488.6,250.7 488.9,250.8 489.1,250.8 489.4,250.9 489.6,250.9 489.9,251 490.1,251 490.4,251 490.6,251 490.9,251 491.1,251 491.4,251 491.6,251 491.9,251 492.1,251 492.4,251 492.6,250.9 492.9,250.9 493.1,250.9 493.4,250.8 493.6,250.7 493.9,250.7 494.1,250.6 494.4,250.5 494.6,250.4 494.9,250.3 495.1,250.2 495.4,250.1 495.6,250 495.9,249.9 496.1,249.8 496.4,249.7 496.6,249.5 496.9,249.4 497.1,249.3 497.4,249.1 497.6,249 497.9,248.8 498.1,248.6 498.4,248.5 498.7,248.3 498.9,248.1 499.2,247.9 499.4,247.8 499.7,247.6 499.9,247.4 500.2,247.2 500.4,247 500.7,246.8 500.9,246.5 501.2,246.3 501.4,246.1 501.7,245.9 501.9,245.7 502.2,245.4 502.4,245.2 502.7,245 502.9,244.7 503.2,244.5 503.4,244.2 503.7,244 503.9,243.8 504.2,243.5 504.4,243.3 504.7,243 504.9,242.8 505.2,242.5 505.4,242.2 505.7,242 505.9,241.7 506.2,241.5 506.4,241.2 506.7,241 506.9,240.7 507.2,240.4 507.4,240.2 507.7,239.9 507.9,239.7 508.2,239.4 508.4,239.1 508.7,238.9 509,238.6 509.2,238.4 509.5,238.1 509.7,237.9 510,237.6 510.2,237.4 510.5,237.1 510.7,236.9 511,236.7 511.2,236.4 511.5,236.2 511.7,236 512,235.7 512.2,235.5 512.5,235.3 512.7,235.1 513,234.9 513.2,234.6 513.5,234.4 513.7,234.2 514,234 514.2,233.8 514.5,233.6 514.7,233.5 515,233.3 515.2,233.1 515.5,232.9 515.7,232.8 516,232.6 516.2,232.4 516.5,232.3 516.7,232.1 517,232 517.2,231.9 517.5,231.7 517.7,231.6 518,231.5 518.2,231.4 518.5,231.3"/>
<polyline fill="none" stroke="#00f" stroke-width="1.15" transform="translate(317.5 0) scale(0.8 1)" points="0,282.1 0.4,287.8 0.7,289.9 1.1,196.4 1.4,200.1 1.8,190 2.2,192.6 2.5,192.9 2.9,207.8 3.2,198.2 3.6,197.3 3.9,207.9 4.3,199.7 4.7,202.5 5,204.7 5.4,193.6 5.7,200.8 6.1,206.9 6.5,201.8 6.8,191.4 7.2,201.4 7.5,205.3 7.9,207.6 8.3,199.1 8.6,196.1 9,201 9.3,192.7 9.7,198.8 10.1,193.6 10.4,198.1 10.8,197.6 11.1,201 11.5,206.7 11.8,195.4 12.2,192.5 12.6,195 12.9,200.8 13.3,207.2 13.6,205.3 14,198.3 14.4,196.3 14.7,208.3 15.1,190.9 15.4,195.2 15.8,195.1 16.2,190 16.5,197 16.9,199.4 17.2,204.5 17.6,195.8 17.9,195.5 18.3,190.7 18.7,191 19,199.5 19.4,192.6 19.7,190.6 20.1,200.9 20.5,197.3 20.8,197.5 21.2,199.7 21.5,199.9 21.9,204.6 22.3,205.2 22.6,202.9 23,197.5 23.3,196.3 23.7,193.2 24,203.4 24.4,199 24.8,200.2 25.1,205.6 25.5,190.1 25.8,202.4 26.2,195.7 26.6,195.7 26.9,194.1 27.3,193 27.6,190.8 28,202.7 28.4,196.1 28.7,202.8 29.1,203.1 29.4,193.7 29.8,194.5 30.2,194.9 30.5,206.5 30.9,190.4 31.2,196.9 31.6,200 31.9,191.4 32.3,206.7 32.7,203.1 33,206.1 33.4,202.6 33.7,193.8 34.1,206 34.5,194.3 34.8,197.4 35.2,202.5 35.5,192.6 35.9,208 36.3,204.2 36.6,199.3 37,201.2 37.3,201.5 37.7,189.8 38,198.4 38.4,196.2 38.8,200.1 39.1,205 39.5,289.6 39.8,277.2 40.2,277.9 40.6,272.7 40.9,286.8 41.3,284.1 41.6,284.5 42,280.7 42.4,290.7 42.7,276.4 43.1,277.7 43.4,289.8 43.8,278.1 44.1,285.2 44.5,283.4 44.9,287.8 45.2,278.5 45.6,280.6 45.9,291.2 46.3,288.8 46.7,277.7 47,289.1 47.4,282.7 47.7,278.9 48.1,288.4 48.5,282.1 48.8,283.6 49.2,288.9 49.5,276.6 49.9,290.1 50.2,275.9 50.6,285.4 51,284.8 51.3,287.4 51.7,275.3 52,272.6 52.4,288 52.8,279.7 53.1,290.8 53.5,284 53.8,287.4 54.2,279.6 54.6,287.8 54.9,280 55.3,273.3 55.6,286.9 56,289.2 56.4,275.3 56.7,290.6 57.1,277.5 57.4,274.7 57.8,289.1 58.1,281.8 58.5,273 58.9,288.8 59.2,275.7 59.6,278.8 59.9,290.2 60.3,288.4 60.7,274 61,290.4 61.4,284.8 61.7,291 62.1,286.7 62.5,287.5 62.8,276.6 63.2,290.1 63.5,289.5 63.9,281.3 64.2,287.8 64.6,281.7 65,290.6 65.3,288.1 65.7,285.1 66,277.9 66.4,275.9 66.8,288 67.1,282 67.5,275.3 67.8,281.5 68.2,276.5 68.6,275.4 68.9,285.3 69.3,279.9 69.6,281.4 70,287.7 70.3,277.8 70.7,275 71.1,290.9 71.4,273.4 71.8,290.6 72.1,283.9 72.5,290.2 72.9,284.4 73.2,280.8 73.6,282.1 73.9,284.9 74.3,281.7 74.7,278.3 75,279.1 75.4,288.7 75.7,281 76.1,290.4 76.5,279.4 76.8,290.8 77.2,281 77.5,287.3 77.9,290.7 78.2,282.4 78.6,203 79,207.7 79.3,193.9 79.7,204.4 80,196.3 80.4,200.9 80.8,193.8 81.1,203.1 81.5,206.4 81.8,202.3 82.2,196 82.6,202.8 82.9,193.1 83.3,202.1 83.6,205.2 84,197.9 84.3,198 84.7,197.7 85.1,208.3 85.4,198.7 85.8,197.5 86.1,206 86.5,208 86.9,199.9 87.2,196.7 87.6,208.2 87.9,193.8 88.3,202.5 88.7,203.6 89,197.8 89.4,207.2 89.7,193.4 90.1,191.6 90.5,208.4 90.8,202.4 91.2,207.4 91.5,206.5 91.9,193.8 92.2,195.6 92.6,204.5 93,208.8 93.3,196.9 93.7,200 94,195 94.4,194.1 94.8,193.1 95.1,200.3 95.5,197.4 95.8,191.2 96.2,201 96.6,199.3 96.9,202.3 97.3,196.4 97.6,197.8 98,194.7 98.3,194.1 98.7,206.5 99.1,192.3 99.4,194.5 99.8,206.8 100.1,201.3 100.5,203.3 100.9,195.4 101.2,189.8 101.6,200.9 101.9,202.4 102.3,199.6 102.7,192.5 103,205.4 103.4,195.2 103.7,203 104.1,195.7 104.4,192.3 104.8,201.9 105.2,192.2 105.5,196.9 105.9,198.2 106.2,197 106.6,206.4 107,205.3 107.3,196.9 107.7,191.6 108,207.2 108.4,197.8 108.8,191.1 109.1,195.8 109.5,193.9 109.8,192.7 110.2,199.3 110.5,198.4 110.9,191.8 111.3,207.5 111.6,195.6 112,194.5 112.3,192.8 112.7,198.6 113.1,193.3 113.4,191.1 113.8,207.9 114.1,208.6 114.5,206 114.9,195.6 115.2,205.7 115.6,208.3 115.9,196.7 116.3,204.9 116.7,204.8 117,195.8 117.4,198.4 117.7,195.5 118.1,202.2 118.4,279.7 118.8,279.4 119.2,291.5 119.5,280.3 119.9,282.5 120.2,281.9 120.6,283.3 121,272.7 121.3,281 121.7,287.7 122,273.6 122.4,290.9 122.8,286.1 123.1,276.6 123.5,278.8 123.8,288 124.2,277.5 124.5,285.9 124.9,280.2 125.3,284.1 125.6,282.5 126,279.8 126.3,290.2 126.7,277.3 127.1,286.3 127.4,290.5 127.8,287.6 128.1,289.5 128.5,289.5 128.9,277.8 129.2,289.3 129.6,280 129.9,275.4 130.3,290.9 130.6,284.6 131,275.9 131.4,284.7 131.7,282.1 132.1,284.8 132.4,277.6 132.8,277.3 133.2,283.7 133.5,291.5 133.9,275.1 134.2,287.5 134.6,278.2 135,275.2 135.3,284.5 135.7,289.3 136,283.9 136.4,288.4 136.8,288 137.1,273.9 137.5,275.5 137.8,287.7 138.2,281.7 138.5,282.4 138.9,290.8 139.3,273 139.6,288.7 140,290.6 140.3,274.1 140.7,280.4 141.1,272.6 141.4,291 141.8,285.2 142.1,278.5 142.5,283.4 142.9,273.2 143.2,289.8 143.6,277.5 143.9,281.6 144.3,289 144.6,285 145,286.6 145.4,276.2 145.7,285 146.1,278.5 146.4,276.9 146.8,273.9 147.2,285.4 147.5,284.3 147.9,274.1 148.2,289.7 148.6,286.1 149,274.6 149.3,286.7 149.7,284 150,290.7 150.4,276.9 150.8,286 151.1,283.6 151.5,290.2 151.8,290.9 152.2,288.4 152.5,284.8 152.9,286.9 153.3,285.3 153.6,287 154,273.7 154.3,286.9 154.7,279.8 155.1,281.9 155.4,278.4 155.8,275.1 156.1,276.7 156.5,286 156.9,283.2 157.2,285.7 157.6,276.9 157.9,204 158.3,199.8 158.6,194.4 159,200.4 159.4,195.5 159.7,197.2 160.1,203.4 160.4,201.6 160.8,197.8 161.2,199.9 161.5,195.1 161.9,195.8 162.2,206.2 162.6,205.9 163,207 163.3,202.7 163.7,208.5 164,199.2 164.4,202.4 164.7,206.9 165.1,192.8 165.5,207.6 165.8,195.7 166.2,204.6 166.5,195.3 166.9,192.4 167.3,203.7 167.6,195.3 168,199.9 168.3,194.7 168.7,206.6 169.1,208.7 169.4,198.2 169.8,198.3 170.1,207.9 170.5,198.3 170.8,198.5 171.2,206.7 171.6,197.4 171.9,204.5 172.3,191.4 172.6,197.8 173,201.6 173.4,200.3 173.7,200.9 174.1,199.8 174.4,195.9 174.8,193.8 175.2,200.4 175.5,192.5 175.9,193 176.2,190.3 176.6,197.1 177,197.3 177.3,207 177.7,207.1 178,191.4 178.4,199 178.7,194.3 179.1,196.1 179.5,190 179.8,202.5 180.2,195.4 180.5,194.8 180.9,208.5 181.3,196 181.6,205.8 182,201.6 182.3,205.4 182.7,208.4 183.1,204.2 183.4,199.2 183.8,194.3 184.1,199.1 184.5,192.8 184.8,204.4 185.2,206.9 185.6,193.8 185.9,203 186.3,205.1 186.6,206.3 187,207.2 187.4,195.1 187.7,205.8 188.1,193.4 188.4,198.5 188.8,208 189.2,199.7 189.5,203.6 189.9,198.2 190.2,191.2 190.6,197.7 190.9,190.7 191.3,196 191.7,194.4 192,193.1 192.4,202.3 192.7,198.4 193.1,201.9 193.5,192.9 193.8,192.9 194.2,197.3 194.5,197.9 194.9,203.7 195.3,201.3 195.6,204.1 196,196.3 196.3,206.5 196.7,205 197.1,278.5 197.4,281.9 197.8,279.9 198.1,290.4 198.5,284.2 198.8,272.7 199.2,282.7 199.6,276.7 199.9,286.1 200.3,275.1 200.6,284.9 201,287.1 201.4,291.1 201.7,290.7 202.1,284.4 202.4,274.4 202.8,287.5 203.2,283.7 203.5,274.9 203.9,273.4 204.2,277.2 204.6,285.3 204.9,279.6 205.3,287.6 205.7,280.1 206,281 206.4,276 206.7,283.8 207.1,283.7 207.5,284.7 207.8,274.6 208.2,274.3 208.5,288 208.9,275.1 209.3,287 209.6,278.3 210,281.9 210.3,273.6 210.7,288.1 211.1,290 211.4,275.3 211.8,285.9 212.1,286.5 212.5,284 212.8,285.8 213.2,278.6 213.6,280.3 213.9,273.8 214.3,276.7 214.6,274 215,277.4 215.4,289.4 215.7,290.8 216.1,290.8 216.4,286.4 216.8,284.4 217.2,287 217.5,290.3 217.9,291.2 218.2,289.4 218.6,281.8 218.9,289.7 219.3,281.6 219.7,274.1 220,276.6 220.4,283.4 220.7,277.3 221.1,289.7 221.5,273.9 221.8,277.2 222.2,276.9 222.5,291.4 222.9,281.4 223.3,278.6 223.6,273.4 224,277.2 224.3,286.9 224.7,273.9 225,275.7 225.4,283.3 225.8,282.2 226.1,286.2 226.5,286.8 226.8,286.3 227.2,286.4 227.6,278.3 227.9,285.9 228.3,288.3 228.6,288.2 229,291 229.4,277.1 229.7,277.6 230.1,282.6 230.4,286.1 230.8,279.2 231.1,287.5 231.5,285.4 231.9,277.1 232.2,285.3 232.6,282.7 232.9,290.1 233.3,275 233.7,285.3 234,281.3 234.4,284.6 234.7,283.2 235.1,275.2 235.5,280.9 235.8,285.3 236.2,291 236.5,206.3 236.9,202.9 237.3,201.3 237.6,207.2 238,208.3 238.3,196.2 238.7,206.5 239,205.5 239.4,196.2 239.8,194.7 240.1,206.4 240.5,206.5 240.8,195.1 241.2,189.9 241.6,191.5 241.9,195.9 242.3,194.8 242.6,190.7 243,200.3 243.4,195 243.7,194.8 244.1,206.4 244.4,190.7 244.8,195.6 245.1,192.6 245.5,190.6 245.9,207.9 246.2,197.4 246.6,198.8 246.9,207.7 247.3,192.4 247.7,191.9 248,207.2 248.4,201.6 248.7,196.8 249.1,207.7 249.5,202.5 249.8,200.4 250.2,206.8 250.5,190.1 250.9,194 251.2,197.9"/>
</g>
<path d="M46.6 178.6H246.9M46.6 302.8H246.9M47 240.7h2.2M246.5 240.7h-2.2" stroke="#4a4a4a" stroke-width="1" fill="none"/>
<path d="M47 178.6V302.8M246.5 178.6V302.8M96.88 302.8v-2.2M96.88 178.6v2.2M146.75 302.8v-2.2M146.75 178.6v2.2M196.62 302.8v-2.2M196.62 178.6v2.2" stroke="#4a4a4a" stroke-width="0.8" fill="none"/>
<text class="tk" transform="translate(47 319.3) scale(0.8 1)" text-anchor="middle">0</text>
<text class="tk" transform="translate(96.88 319.3) scale(0.8 1)" text-anchor="middle">5</text>
<text class="tk" transform="translate(146.75 319.3) scale(0.8 1)" text-anchor="middle">10</text>
<text class="tk" transform="translate(196.62 319.3) scale(0.8 1)" text-anchor="middle">15</text>
<text class="tk" transform="translate(246.5 319.3) scale(0.8 1)" text-anchor="middle">20</text>
<text class="tk" transform="translate(44 307.3) scale(0.8 1)" text-anchor="end">−5</text>
<text class="tk" transform="translate(44 245.2) scale(0.8 1)" text-anchor="end">0</text>
<text class="tk" transform="translate(44 183.1) scale(0.8 1)" text-anchor="end">5</text>
<text class="lb" transform="translate(146.95 334.2) scale(0.83 1)" text-anchor="middle" font-size="14.3">Time</text>
<text class="lb" transform="translate(25.2 238.2) scale(0.76 1) rotate(-90)" text-anchor="middle" font-size="14.3" textLength="102.5" lengthAdjust="spacing">Force Amplitude</text>
<text class="pl" transform="translate(1.7 185.2) scale(0.8 1)">c)</text>
<path d="M317.1 178.6H518.9M317.1 302.8H518.9M317.5 282.1h2.2M518.5 282.1h-2.2M317.5 240.7h2.2M518.5 240.7h-2.2M317.5 199.3h2.2M518.5 199.3h-2.2" stroke="#4a4a4a" stroke-width="1" fill="none"/>
<path d="M317.5 178.6V302.8M518.5 178.6V302.8M367.75 302.8v-2.2M367.75 178.6v2.2M418 302.8v-2.2M418 178.6v2.2M468.25 302.8v-2.2M468.25 178.6v2.2" stroke="#4a4a4a" stroke-width="0.8" fill="none"/>
<text class="tk" transform="translate(317.5 319.3) scale(0.8 1)" text-anchor="middle">0</text>
<text class="tk" transform="translate(367.75 319.3) scale(0.8 1)" text-anchor="middle">5</text>
<text class="tk" transform="translate(418 319.3) scale(0.8 1)" text-anchor="middle">10</text>
<text class="tk" transform="translate(468.25 319.3) scale(0.8 1)" text-anchor="middle">15</text>
<text class="tk" transform="translate(518.5 319.3) scale(0.8 1)" text-anchor="middle">20</text>
<text class="tk" transform="translate(314.5 286.6) scale(0.8 1)" text-anchor="end">−1</text>
<text class="tk" transform="translate(314.5 245.2) scale(0.8 1)" text-anchor="end">0</text>
<text class="tk" transform="translate(314.5 203.8) scale(0.8 1)" text-anchor="end">1</text>
<text class="lb" transform="translate(418.2 334.2) scale(0.83 1)" text-anchor="middle" font-size="14.3">Time</text>
<text class="lb" transform="translate(297.3 238.7) scale(0.76 1) rotate(-90)" text-anchor="middle" font-size="14.3" textLength="50" lengthAdjust="spacing">Position</text>
<text class="pl" transform="translate(282.5 185) scale(0.8 1)">d)</text>
<g clip-path="url(#c20)">
<polyline fill="none" stroke="#000" stroke-width="1.4" transform="translate(47 0) scale(0.8 1)" points="0,407 0.2,402.1 0.5,440.4 0.7,417.3 0.9,453.1 1.1,411.6 1.4,439.2 1.6,426.2 1.8,468.4 2,441.3 2.3,425.4 2.5,388.2 2.7,422.1 2.9,464.3 3.2,424.2 3.4,399.2 3.6,396.1 3.9,377.3 4.1,442.9 4.3,393.4 4.5,455.5 4.8,453.8 5,363.9 5.2,461.3 5.4,363.3 5.7,365 5.9,406.4 6.1,457.9 6.3,384.8 6.6,466.6 6.8,469.8 7,433.7 7.3,435.7 7.5,421.3 7.7,353.3 7.9,423.8 8.2,404.7 8.4,351.2 8.6,444.4 8.8,416.1 9.1,359.8 9.3,401.6 9.5,382.3 9.7,442.7 10,392 10.2,417 10.4,429.4 10.7,363.5 10.9,360.2 11.1,439.5 11.3,441.1 11.6,348.2 11.8,460.6 12,444.5 12.2,453.4 12.5,378.9 12.7,377.6 12.9,459.3 13.1,409.5 13.4,395.9 13.6,448.8 13.8,425.6 14.1,437.2 14.3,379.6 14.5,378.9 14.7,424 15,450 15.2,407.3 15.4,370.6 15.6,447.1 15.9,446.1 16.1,372.7 16.3,453.2 16.5,467.6 16.8,359.5 17,357.2 17.2,429.7 17.5,356.7 17.7,414.7 17.9,413.6 18.1,363 18.4,398.9 18.6,382.3 18.8,377.7 19,372 19.3,466.1 19.5,369.5 19.7,367 19.9,397 20.2,392.7 20.4,455.5 20.6,376.2 20.9,387.4 21.1,422.8 21.3,428.9 21.5,431.5 21.8,435.5 22,365.8 22.2,454 22.4,413 22.7,351.4 22.9,418.1 23.1,374.8 23.4,366.9 23.6,427.6 23.8,398.4 24,445.3 24.3,384.7 24.5,458.4 24.7,374.2 24.9,445.1 25.2,449.2 25.4,444.9 25.6,368.3 25.8,397.3 26.1,354.5 26.3,355.2 26.5,386.9 26.8,386.2 27,394.6 27.2,436.2 27.4,380.8 27.7,347.6 27.9,377 28.1,428.5 28.3,423.4 28.6,444.2 28.8,403.2 29,411.5 29.2,403.2 29.5,373 29.7,349.6 29.9,431.8 30.2,412.3 30.4,428.1 30.6,425.7 30.8,428.1 31.1,453.2 31.3,443.8 31.5,433.2 31.7,443 32,466.7 32.2,411.1 32.4,419.1 32.6,393 32.9,427.6 33.1,371.8 33.3,359.6 33.6,353.5 33.8,420.1 34,442.8 34.2,465.7 34.5,422.7 34.7,356.2 34.9,388.9 35.1,450.7 35.4,465.1 35.6,412 35.8,416.5 36,402.2 36.3,373.8 36.5,414 36.7,392.8 37,386.5 37.2,393.7 37.4,410.7 37.6,392 37.9,389.3 38.1,366.8 38.3,438 38.5,381.2 38.8,466.3 39,370.1 39.2,443.5 39.4,397.3 39.7,411.4 39.9,473.3 40.1,369.8 40.4,411.1 40.6,371.5 40.8,418.3 41,471.6 41.3,407.2 41.5,472.8 41.7,410.9 41.9,462.3 42.2,401.6 42.4,378.7 42.6,464.5 42.8,373.6 43.1,363.3 43.3,400 43.5,356.8 43.8,357.6 44,464.8 44.2,460.3 44.4,360.4 44.7,363.9 44.9,471.3 45.1,361.8 45.3,374.8 45.6,384.2 45.8,476.4 46,375.8 46.2,379.2 46.5,460.5 46.7,447.4 46.9,388 47.2,457.2 47.4,474.1 47.6,438.6 47.8,441.4 48.1,382.8 48.3,462.6 48.5,404 48.7,441.3 49,446.3 49.2,365.7 49.4,475.7 49.6,363.9 49.9,429.3 50.1,417.4 50.3,412.8 50.6,370.7 50.8,392.1 51,419.3 51.2,409.5 51.5,457.1 51.7,441.1 51.9,444.8 52.1,406.2 52.4,460 52.6,419.2 52.8,393.6 53,421.4 53.3,414.8 53.5,461 53.7,465.6 54,409.5 54.2,363.9 54.4,391.8 54.6,462.4 54.9,371.2 55.1,465.5 55.3,392.5 55.5,380.5 55.8,403.5 56,376.5 56.2,375.3 56.4,421.3 56.7,472.4 56.9,469.8 57.1,447 57.4,475.6 57.6,407.8 57.8,440.2 58,470.9 58.3,439.5 58.5,400.4 58.7,423.7 58.9,391.2 59.2,431.8 59.4,374.6 59.6,399.9 59.8,453.6 60.1,464 60.3,451.4 60.5,451 60.8,417.2 61,366.4 61.2,470.1 61.4,389 61.7,397.9 61.9,406 62.1,453.6 62.3,398.6 62.6,416.5 62.8,452.2 63,410.7 63.3,461.6 63.5,414.7 63.7,375.3 63.9,401.7 64.2,478.5 64.4,358.9 64.6,369.1 64.8,443.5 65.1,357.9 65.3,369.5 65.5,412.4 65.7,424.2 66,378.3 66.2,466.9 66.4,415.3 66.7,435.5 66.9,450.7 67.1,426.6 67.3,381.9 67.6,471.2 67.8,362 68,371.4 68.2,366.3 68.5,425 68.7,382.3 68.9,368.8 69.1,386.2 69.4,399.4 69.6,411.3 69.8,423.6 70.1,464.6 70.3,431.8 70.5,472.6 70.7,454 71,442.4 71.2,379.7 71.4,365.5 71.6,388.6 71.9,426.8 72.1,383 72.3,434.9 72.5,465.8 72.8,453.2 73,384.9 73.2,415.4 73.5,356.1 73.7,357.9 73.9,464.3 74.1,437.3 74.4,391.2 74.6,469.4 74.8,431.4 75,391.5 75.3,475.5 75.5,469.8 75.7,466.6 75.9,395.8 76.2,412.5 76.4,404.4 76.6,391.3 76.9,423.9 77.1,391.5 77.3,418.9 77.5,392.5 77.8,397.1 78,442.9 78.2,377.6 78.4,428.5 78.7,453.9 78.9,380.4 79.1,362.2 79.3,429.6 79.6,356.1 79.8,370.5 80,470.6 80.3,372.9 80.5,425.9 80.7,397.9 80.9,420.8 81.2,424.8 81.4,432.8 81.6,447.4 81.8,466.2 82.1,352.8 82.3,440.6 82.5,403.9 82.7,418.8 83,455.1 83.2,420.2 83.4,357.5 83.7,458.7 83.9,449.8 84.1,380.9 84.3,399 84.6,353.2 84.8,351.9 85,424.3 85.2,440.2 85.5,402.5 85.7,427.8 85.9,393.3 86.1,363.4 86.4,371.5 86.6,421.3 86.8,394.6 87.1,413.7 87.3,428.5 87.5,467.9 87.7,443.8 88,366.4 88.2,434 88.4,445.4 88.6,354.2 88.9,435.7 89.1,410.2 89.3,383.7 89.5,411.8 89.8,374.5 90,397.8 90.2,446.2 90.5,362.8 90.7,411.1 90.9,399.7 91.1,379.9 91.4,466.4 91.6,357.9 91.8,461.9 92,377.5 92.3,427.7 92.5,352.3 92.7,388.7 92.9,418 93.2,465 93.4,442.9 93.6,369.8 93.9,365.1 94.1,373.4 94.3,436.1 94.5,441.2 94.8,383.2 95,351.2 95.2,452.3 95.4,434.6 95.7,459.4 95.9,399.9 96.1,361.3 96.3,426.3 96.6,416.4 96.8,356.4 97,390.7 97.3,458.4 97.5,366.7 97.7,365.3 97.9,394 98.2,391.9 98.4,347.2 98.6,412.9 98.8,428.4 99.1,372 99.3,375.9 99.5,430.4 99.8,409.3 100,410.8 100.2,350.2 100.4,381.2 100.7,401.6 100.9,351 101.1,375 101.3,386.8 101.6,369.4 101.8,352.6 102,439.6 102.2,431.9 102.5,467.3 102.7,437.8 102.9,398.4 103.2,415.8 103.4,406.7 103.6,414.2 103.8,411.7 104.1,393.7 104.3,368.8 104.5,391.3 104.7,446.1 105,467.6 105.2,455.3 105.4,461.7 105.6,399.6 105.9,389 106.1,433.8 106.3,375.7 106.6,359.5 106.8,403.1 107,356.4 107.2,404.1 107.5,454.8 107.7,427.4 107.9,458.6 108.1,435.5 108.4,424.2 108.6,363.6 108.8,425.5 109,462.3 109.3,446.3 109.5,392 109.7,350.8 110,448.9 110.2,445.1 110.4,421.5 110.6,452.6 110.9,406 111.1,357.6 111.3,402.6 111.5,370.4 111.8,434.5 112,381.1 112.2,418.4 112.4,399.3 112.7,384.4 112.9,455.5 113.1,445.6 113.4,358.1 113.6,434.4 113.8,386.9 114,386.2 114.3,424.7 114.5,357.8 114.7,424 114.9,441.8 115.2,400.1 115.4,461 115.6,468 115.8,389.5 116.1,364 116.3,453.6 116.5,435.3 116.8,393 117,399.3 117.2,353.5 117.4,414.7 117.7,366 117.9,427.2 118.1,469.7 118.3,446.9 118.6,421 118.8,401.6 119,356.1 119.2,383.1 119.5,391.9 119.7,457.8 119.9,404.1 120.2,454.4 120.4,446.2 120.6,447.3 120.8,412.1 121.1,371.6 121.3,411.7 121.5,461.6 121.7,475.7 122,437.2 122.2,368.6 122.4,430.1 122.6,387.5 122.9,379.7 123.1,467 123.3,466.1 123.6,461.8 123.8,471 124,355.8 124.2,373.2 124.5,447.5 124.7,455.5 124.9,416.4 125.1,471.8 125.4,425.8 125.6,398.9 125.8,475.8 126,434.3 126.3,380.1 126.5,459.3 126.7,422 127,446.2 127.2,415.8 127.4,460.9 127.6,443.4 127.9,384.6 128.1,388.8 128.3,467 128.5,368 128.8,411.6 129,446.1 129.2,370.6 129.4,458.7 129.7,377.4 129.9,397.2 130.1,475.7 130.4,456 130.6,434 130.8,367.2 131,379.4 131.3,391.4 131.5,403.5 131.7,374.3 131.9,374.5 132.2,360.5 132.4,439.5 132.6,436.7 132.8,437.3 133.1,420.1 133.3,384.4 133.5,416.9 133.8,455.4 134,429.4 134.2,431.9 134.4,424.4 134.7,419.4 134.9,467.2 135.1,395.6 135.3,383.8 135.6,397.9 135.8,409 136,473.3 136.2,448.2 136.5,377.2 136.7,454.6 136.9,466.1 137.2,392.2 137.4,441.7 137.6,386.5 137.8,408.8 138.1,372.8 138.3,399.5 138.5,429.8 138.7,383.6 139,468.5 139.2,478.2 139.4,414.5 139.6,463.2 139.9,420.8 140.1,427.1 140.3,438.3 140.6,389 140.8,382.7 141,457.1 141.2,442 141.5,372.8 141.7,379.8 141.9,475.9 142.1,446.7 142.4,395.2 142.6,401.5 142.8,465 143.1,410.3 143.3,432.3 143.5,437.1 143.7,412.8 144,424.7 144.2,451.3 144.4,416.3 144.6,478.1 144.9,474.6 145.1,359.5 145.3,400.2 145.5,439.8 145.8,362.3 146,390.2 146.2,452.3 146.5,468.3 146.7,393.1 146.9,420.6 147.1,466.3 147.4,366.8 147.6,459.9 147.8,473.4 148,410.4 148.3,364.7 148.5,385.6 148.7,369.6 148.9,456 149.2,469.1 149.4,391.5 149.6,385.8 149.9,463.5 150.1,430.6 150.3,377.4 150.5,471.4 150.8,446.4 151,415.1 151.2,365.7 151.4,452.5 151.7,359.2 151.9,405.6 152.1,427.9 152.3,401.2 152.6,354.4 152.8,432.1 153,373.9 153.3,453.7 153.5,459.9 153.7,357.7 153.9,448.2 154.2,464.5 154.4,377.6 154.6,359.4 154.8,354.4 155.1,385.9 155.3,387.6 155.5,375.6 155.7,449.3 156,453.3 156.2,413.2 156.4,418 156.7,415.1 156.9,473.3 157.1,413.5 157.3,392.1 157.6,413.9 157.8,397.7 158,455.7 158.2,427.7 158.5,465.8 158.7,397 158.9,364.1 159.1,452.5 159.4,370 159.6,397.8 159.8,392.4 160.1,438.4 160.3,441.3 160.5,401.7 160.7,403.7 161,365.5 161.2,388.4 161.4,359.2 161.6,429.1 161.9,365.7 162.1,388.5 162.3,405.9 162.5,398.2 162.8,361.4 163,366.5 163.2,360.6 163.5,451.5 163.7,391.4 163.9,438.1 164.1,361.3 164.4,403.5 164.6,405.9 164.8,419.8 165,349.8 165.3,351.7 165.5,441.2 165.7,463.5 165.9,422.2 166.2,369.3 166.4,424.9 166.6,414.1 166.9,379.8 167.1,415.9 167.3,414.6 167.5,407 167.8,354.6 168,453.9 168.2,452.2 168.4,391.4 168.7,376.3 168.9,445.9 169.1,374.4 169.3,419.4 169.6,398.9 169.8,425.1 170,416 170.3,374.6 170.5,352.3 170.7,459.1 170.9,394.5 171.2,354.7 171.4,381.3 171.6,428.6 171.8,369.7 172.1,455 172.3,428.1 172.5,432.1 172.7,395.2 173,366.8 173.2,364.4 173.4,348.9 173.7,382.8 173.9,438.7 174.1,467.7 174.3,418.8 174.6,464.7 174.8,416.3 175,390.9 175.2,362.8 175.5,459.8 175.7,465.4 175.9,372.4 176.1,395.7 176.4,434.1 176.6,415.7 176.8,385.5 177.1,448.8 177.3,431 177.5,432.8 177.7,440.8 178,443.6 178.2,411.1 178.4,386.9 178.6,404.5 178.9,458.3 179.1,372.4 179.3,403.5 179.5,427.3 179.8,422.7 180,377.8 180.2,430.9 180.5,438.4 180.7,353.9 180.9,410.9 181.1,432.7 181.4,432.4 181.6,436.8 181.8,383.1 182,393.9 182.3,456 182.5,388.9 182.7,435.8 183,412.3 183.2,384 183.4,367.7 183.6,409.6 183.9,386.6 184.1,364.3 184.3,380.1 184.5,433.6 184.8,414.8 185,399.4 185.2,366.5 185.4,355.2 185.7,381.1 185.9,445.6 186.1,405.2 186.4,361.1 186.6,371.5 186.8,433.3 187,401.5 187.3,355.5 187.5,371.1 187.7,408.1 187.9,444.4 188.2,431.9 188.4,392.5 188.6,373 188.8,377.6 189.1,393.9 189.3,465 189.5,371.6 189.8,380.8 190,360.5 190.2,447 190.4,377.1 190.7,460.5 190.9,358.9 191.1,467.2 191.3,461.6 191.6,451.3 191.8,414.3 192,458.7 192.2,400.6 192.5,424.6 192.7,364.6 192.9,456.7 193.2,451.5 193.4,389.4 193.6,446.2 193.8,410.4 194.1,443 194.3,386.3 194.5,409.7 194.7,382.5 195,432 195.2,468.6 195.4,357.4 195.6,432.9 195.9,456.6 196.1,471.5 196.3,372.5 196.6,421.1 196.8,434.3 197,378.6 197.2,473.1 197.5,374.5 197.7,445.5 197.9,441.3 198.1,444.5 198.4,367.9 198.6,453 198.8,466.7 199,419.8 199.3,411.7 199.5,466.4 199.7,431.4 200,421.1 200.2,397.4 200.4,429.9 200.6,428.1 200.9,442 201.1,404.8 201.3,419.9 201.5,366.8 201.8,404.1 202,408.1 202.2,389.7 202.4,458.3 202.7,395.9 202.9,402.1 203.1,434.4 203.4,382.4 203.6,446.2 203.8,370.8 204,356.7 204.3,368.5 204.5,429.3 204.7,359.9 204.9,450.4 205.2,465.6 205.4,396.7 205.6,364.9 205.8,367.4 206.1,382.3 206.3,456.5 206.5,427.8 206.8,433.5 207,426 207.2,381.8 207.4,429.8 207.7,405 207.9,465 208.1,473.8 208.3,387.1 208.6,376.5 208.8,437.3 209,398.9 209.2,460.9 209.5,363.8 209.7,445 209.9,464.6 210.2,454.4 210.4,460.2 210.6,388.1 210.8,396.5 211.1,393.6 211.3,459.9 211.5,360.4 211.7,376.4 212,402.8 212.2,457 212.4,447.7 212.6,463.4 212.9,426.6 213.1,396.1 213.3,440.4 213.6,404.7 213.8,392.3 214,413.8 214.2,454 214.5,358.7 214.7,360.9 214.9,462.3 215.1,451.7 215.4,413.2 215.6,419.3 215.8,421.7 216,379.5 216.3,437.2 216.5,412.3 216.7,470.2 217,468.8 217.2,387.1 217.4,452.2 217.6,374.5 217.9,403.8 218.1,472.5 218.3,385.3 218.5,477 218.8,410.1 219,465.1 219.2,428 219.4,433.9 219.7,368.3 219.9,432.6 220.1,479.6 220.4,429.4 220.6,428.5 220.8,414.4 221,421.5 221.3,419.7 221.5,478.2 221.7,413.6 221.9,373.5 222.2,367.3 222.4,408.3 222.6,389.7 222.9,435 223.1,475.2 223.3,417.7 223.5,399.8 223.8,441 224,470.6 224.2,361.5 224.4,418.4 224.7,361 224.9,471.9 225.1,439.4 225.3,362.7 225.6,358.1 225.8,373.1 226,477.2 226.3,440.9 226.5,404.9 226.7,457.8 226.9,418.1 227.2,426.1 227.4,445.9 227.6,366.9 227.8,443.9 228.1,385.6 228.3,358.5 228.5,398.9 228.7,445.9 229,384.9 229.2,434.9 229.4,429 229.7,355.3 229.9,373 230.1,386.4 230.3,364.3 230.6,355.5 230.8,402.7 231,423.3 231.2,462.5 231.5,451.8 231.7,405.1 231.9,470.2 232.1,408.2 232.4,405.2 232.6,467.5 232.8,469 233.1,361.4 233.3,360.3 233.5,406 233.7,355.9 234,412.1 234.2,370.2 234.4,470 234.6,451.1 234.9,433.2 235.1,429.7 235.3,413.2 235.5,445.5 235.8,393.1 236,457.1 236.2,362 236.5,415.6 236.7,445.6 236.9,463.6 237.1,357 237.4,416.9 237.6,373.5 237.8,387.5 238,459.7 238.3,389.4 238.5,359.2 238.7,351.8 238.9,414.9 239.2,409.3 239.4,447.2 239.6,461.8 239.9,372.7 240.1,459.7 240.3,414.5 240.5,389.2 240.8,377.4 241,417.8 241.2,469.9 241.4,361 241.7,381.9 241.9,362.3 242.1,383.5 242.3,388.5 242.6,470.2 242.8,438 243,379.9 243.3,428.8 243.5,406.8 243.7,459.6 243.9,430.8 244.2,435.3 244.4,415.5 244.6,355.4 244.8,367 245.1,385.5 245.3,453.6 245.5,420.6 245.7,351.4 246,384 246.2,371.5 246.4,449.9 246.7,382.3 246.9,364.1 247.1,363.2 247.3,449.3 247.6,450.9 247.8,398.8 248,457.6 248.2,461.6 248.5,382.5 248.7,388.9 248.9,395.9 249.1,408.8 249.4,466.6"/>
<polyline fill="none" stroke="#f00" stroke-width="3" stroke-dasharray="6.5 2.5 6.5 6" stroke-dashoffset="7.25" points="47,413.2 47.2,413.1 47.5,412.9 47.7,412.8 48,412.6 48.2,412.5 48.5,412.3 48.7,412.2 49,412 49.2,411.9 49.5,411.7 49.7,411.6 50,411.4 50.2,411.3 50.5,411.1 50.7,411 51,410.8 51.2,410.7 51.5,410.5 51.7,410.4 52,410.3 52.2,410.1 52.5,410 52.7,409.9 53,409.7 53.2,409.6 53.5,409.5 53.7,409.4 54,409.2 54.2,409.1 54.5,409 54.7,408.9 55,408.8 55.2,408.7 55.5,408.6 55.7,408.5 56,408.4 56.2,408.3 56.5,408.2 56.7,408.1 57,408 57.2,407.9 57.5,407.9 57.7,407.8 58,407.7 58.2,407.6 58.5,407.6 58.7,407.5 59,407.4 59.2,407.4 59.5,407.3 59.7,407.3 60,407.3 60.2,407.2 60.5,407.2 60.7,407.1 61,407.1 61.2,407.1 61.5,407.1 61.7,407.1 62,407 62.2,407 62.5,407 62.7,407 63,407 63.2,407 63.5,407 63.7,407.1 64,407.1 64.2,407.1 64.5,407.1 64.7,407.2 65,407.2 65.2,407.2 65.5,407.3 65.7,407.3 66,407.4 66.2,407.4 66.5,407.5 66.7,407.5 67,407.6 67.2,407.7 67.4,407.7 67.7,407.8 67.9,407.9 68.2,408 68.4,408 68.7,408.1 68.9,408.2 69.2,408.3 69.4,408.4 69.7,408.5 69.9,408.6 70.2,408.7 70.4,408.8 70.7,408.9 70.9,409 71.2,409.2 71.4,409.3 71.7,409.4 71.9,409.5 72.2,409.7 72.4,409.8 72.7,409.9 72.9,410 73.2,410.2 73.4,410.3 73.7,410.4 73.9,410.6 74.2,410.7 74.4,410.9 74.7,411 74.9,411.2 75.2,411.3 75.4,411.5 75.7,411.6 75.9,411.8 76.2,411.9 76.4,412.1 76.7,412.2 76.9,412.4 77.2,412.5 77.4,412.7 77.7,412.8 77.9,413 78.2,413.1 78.4,413.3 78.7,413.5 78.9,413.6 79.2,413.8 79.4,413.9 79.7,414.1 79.9,414.2 80.2,414.4 80.4,414.5 80.7,414.7 80.9,414.8 81.2,415 81.4,415.1 81.7,415.3 81.9,415.4 82.2,415.6 82.4,415.7 82.7,415.9 82.9,416 83.2,416.1 83.4,416.3 83.7,416.4 83.9,416.5 84.2,416.7 84.4,416.8 84.7,416.9 84.9,417.1 85.2,417.2 85.4,417.3 85.7,417.4 85.9,417.5 86.2,417.6 86.4,417.8 86.7,417.9 86.9,418 87.1,418.1 87.4,418.2 87.6,418.3 87.9,418.3 88.1,418.4 88.4,418.5 88.6,418.6 88.9,418.7 89.1,418.8 89.4,418.8 89.6,418.9 89.9,419 90.1,419 90.4,419.1 90.6,419.1 90.9,419.2 91.1,419.2 91.4,419.3 91.6,419.3 91.9,419.3 92.1,419.4 92.4,419.4 92.6,419.4 92.9,419.4 93.1,419.5 93.4,419.5 93.6,419.5 93.9,419.5 94.1,419.5 94.4,419.5 94.6,419.5 94.9,419.5 95.1,419.4 95.4,419.4 95.6,419.4 95.9,419.4 96.1,419.3 96.4,419.3 96.6,419.3 96.9,419.2 97.1,419.2 97.4,419.1 97.6,419.1 97.9,419 98.1,419 98.4,418.9 98.6,418.8 98.9,418.7 99.1,418.7 99.4,418.6 99.6,418.5 99.9,418.4 100.1,418.3 100.4,418.3 100.6,418.2 100.9,418.1 101.1,418 101.4,417.9 101.6,417.8 101.9,417.6 102.1,417.5 102.4,417.4 102.6,417.3 102.9,417.2 103.1,417.1 103.4,416.9 103.6,416.8 103.9,416.7 104.1,416.5 104.4,416.4 104.6,416.3 104.9,416.1 105.1,416 105.4,415.9 105.6,415.7 105.9,415.6 106.1,415.4 106.4,415.3 106.6,415.1 106.8,415 107.1,414.8 107.3,414.7 107.6,414.5 107.8,414.4 108.1,414.2 108.3,414.1 108.6,413.9 108.8,413.8 109.1,413.6 109.3,413.5 109.6,413.3 109.8,413.1 110.1,413 110.3,412.8 110.6,412.7 110.8,412.5 111.1,412.4 111.3,412.2 111.6,412.1 111.8,411.9 112.1,411.8 112.3,411.6 112.6,411.5 112.8,411.3 113.1,411.2 113.3,411 113.6,410.9 113.8,410.7 114.1,410.6 114.3,410.4 114.6,410.3 114.8,410.2 115.1,410 115.3,409.9 115.6,409.8 115.8,409.6 116.1,409.5 116.3,409.4 116.6,409.3 116.8,409.2 117.1,409 117.3,408.9 117.6,408.8 117.8,408.7 118.1,408.6 118.3,408.5 118.6,408.4 118.8,408.3 119.1,408.2 119.3,408.1 119.6,408 119.8,408 120.1,407.9 120.3,407.8 120.6,407.7 120.8,407.7 121.1,407.6 121.3,407.5 121.6,407.5 121.8,407.4 122.1,407.4 122.3,407.3 122.6,407.3 122.8,407.2 123.1,407.2 123.3,407.2 123.6,407.1 123.8,407.1 124.1,407.1 124.3,407.1 124.6,407 124.8,407 125.1,407 125.3,407 125.6,407 125.8,407 126.1,407 126.3,407.1 126.6,407.1 126.8,407.1 127,407.1 127.3,407.1 127.5,407.2 127.8,407.2 128,407.3 128.3,407.3 128.5,407.3 128.8,407.4 129,407.4 129.3,407.5 129.5,407.6 129.8,407.6 130,407.7 130.3,407.8 130.5,407.9 130.8,407.9 131,408 131.3,408.1 131.5,408.2 131.8,408.3 132,408.4 132.3,408.5 132.5,408.6 132.8,408.7 133,408.8 133.3,408.9 133.5,409 133.8,409.1 134,409.2 134.3,409.4 134.5,409.5 134.8,409.6 135,409.7 135.3,409.9 135.5,410 135.8,410.1 136,410.3 136.3,410.4 136.5,410.5 136.8,410.7 137,410.8 137.3,411 137.5,411.1 137.8,411.3 138,411.4 138.3,411.6 138.5,411.7 138.8,411.9 139,412 139.3,412.2 139.5,412.3 139.8,412.5 140,412.6 140.3,412.8 140.5,412.9 140.8,413.1 141,413.3 141.3,413.4 141.5,413.6 141.8,413.7 142,413.9 142.3,414 142.5,414.2 142.8,414.3 143,414.5 143.3,414.6 143.5,414.8 143.8,414.9 144,415.1 144.3,415.2 144.5,415.4 144.8,415.5 145,415.7 145.3,415.8 145.5,416 145.8,416.1 146,416.2 146.3,416.4 146.5,416.5 146.8,416.6 147,416.8 147.2,416.9 147.5,417 147.7,417.1 148,417.3 148.2,417.4 148.5,417.5 148.7,417.6 149,417.7 149.2,417.8 149.5,417.9 149.7,418 150,418.1 150.2,418.2 150.5,418.3 150.7,418.4 151,418.5 151.2,418.6 151.5,418.7 151.7,418.7 152,418.8 152.2,418.9 152.5,418.9 152.7,419 153,419.1 153.2,419.1 153.5,419.2 153.7,419.2 154,419.2 154.2,419.3 154.5,419.3 154.7,419.4 155,419.4 155.2,419.4 155.5,419.4 155.7,419.4 156,419.5 156.2,419.5 156.5,419.5 156.7,419.5 157,419.5 157.2,419.5 157.5,419.5 157.7,419.4 158,419.4 158.2,419.4 158.5,419.4 158.7,419.3 159,419.3 159.2,419.3 159.5,419.2 159.7,419.2 160,419.1 160.2,419.1 160.5,419 160.7,419 161,418.9 161.2,418.8 161.5,418.8 161.7,418.7 162,418.6 162.2,418.5 162.5,418.5 162.7,418.4 163,418.3 163.2,418.2 163.5,418.1 163.7,418 164,417.9 164.2,417.8 164.5,417.7 164.7,417.6 165,417.5 165.2,417.3 165.5,417.2 165.7,417.1 166,417 166.2,416.8 166.5,416.7 166.7,416.6 166.9,416.5 167.2,416.3 167.4,416.2 167.7,416 167.9,415.9 168.2,415.8 168.4,415.6 168.7,415.5 168.9,415.3 169.2,415.2 169.4,415 169.7,414.9 169.9,414.7 170.2,414.6 170.4,414.4 170.7,414.3 170.9,414.1 171.2,414 171.4,413.8 171.7,413.7 171.9,413.5 172.2,413.4 172.4,413.2 172.7,413 172.9,412.9 173.2,412.7 173.4,412.6 173.7,412.4 173.9,412.3 174.2,412.1 174.4,412 174.7,411.8 174.9,411.7 175.2,411.5 175.4,411.4 175.7,411.2 175.9,411.1 176.2,410.9 176.4,410.8 176.7,410.6 176.9,410.5 177.2,410.4 177.4,410.2 177.7,410.1 177.9,410 178.2,409.8 178.4,409.7 178.7,409.6 178.9,409.4 179.2,409.3 179.4,409.2 179.7,409.1 179.9,409 180.2,408.9 180.4,408.7 180.7,408.6 180.9,408.5 181.2,408.4 181.4,408.3 181.7,408.2 181.9,408.2 182.2,408.1 182.4,408 182.7,407.9 182.9,407.8 183.2,407.7 183.4,407.7 183.7,407.6 183.9,407.5 184.2,407.5 184.4,407.4 184.7,407.4 184.9,407.3 185.2,407.3 185.4,407.2 185.7,407.2 185.9,407.2 186.2,407.1 186.4,407.1 186.6,407.1 186.9,407.1 187.1,407 187.4,407 187.6,407 187.9,407 188.1,407 188.4,407 188.6,407 188.9,407 189.1,407.1 189.4,407.1 189.6,407.1 189.9,407.1 190.1,407.2 190.4,407.2 190.6,407.2 190.9,407.3 191.1,407.3 191.4,407.4 191.6,407.4 191.9,407.5 192.1,407.5 192.4,407.6 192.6,407.7 192.9,407.8 193.1,407.8 193.4,407.9 193.6,408 193.9,408.1 194.1,408.2 194.4,408.2 194.6,408.3 194.9,408.4 195.1,408.5 195.4,408.6 195.6,408.8 195.9,408.9 196.1,409 196.4,409.1 196.6,409.2 196.9,409.3 197.1,409.4 197.4,409.6 197.6,409.7 197.9,409.8 198.1,410 198.4,410.1 198.6,410.2 198.9,410.4 199.1,410.5 199.4,410.6 199.6,410.8 199.9,410.9 200.1,411.1 200.4,411.2 200.6,411.4 200.9,411.5 201.1,411.7 201.4,411.8 201.6,412 201.9,412.1 202.1,412.3 202.4,412.4 202.6,412.6 202.9,412.7 203.1,412.9 203.4,413 203.6,413.2 203.9,413.4 204.1,413.5 204.4,413.7 204.6,413.8 204.9,414 205.1,414.1 205.4,414.3 205.6,414.4 205.9,414.6 206.1,414.7 206.4,414.9 206.6,415 206.8,415.2 207.1,415.3 207.3,415.5 207.6,415.6 207.8,415.8 208.1,415.9 208.3,416.1 208.6,416.2 208.8,416.3 209.1,416.5 209.3,416.6 209.6,416.7 209.8,416.9 210.1,417 210.3,417.1 210.6,417.2 210.8,417.3 211.1,417.5 211.3,417.6 211.6,417.7 211.8,417.8 212.1,417.9 212.3,418 212.6,418.1 212.8,418.2 213.1,418.3 213.3,418.4 213.6,418.5 213.8,418.5 214.1,418.6 214.3,418.7 214.6,418.8 214.8,418.8 215.1,418.9 215.3,419 215.6,419 215.8,419.1 216.1,419.1 216.3,419.2 216.6,419.2 216.8,419.3 217.1,419.3 217.3,419.3 217.6,419.4 217.8,419.4 218.1,419.4 218.3,419.4 218.6,419.5 218.8,419.5 219.1,419.5 219.3,419.5 219.6,419.5 219.8,419.5 220.1,419.5 220.3,419.4 220.6,419.4 220.8,419.4 221.1,419.4 221.3,419.4 221.6,419.3 221.8,419.3 222.1,419.2 222.3,419.2 222.6,419.2 222.8,419.1 223.1,419.1 223.3,419 223.6,418.9 223.8,418.9 224.1,418.8 224.3,418.7 224.6,418.6 224.8,418.6 225.1,418.5 225.3,418.4 225.6,418.3 225.8,418.2 226.1,418.1 226.3,418 226.6,417.9 226.8,417.8 227,417.7 227.3,417.6 227.5,417.5 227.8,417.4 228,417.3 228.3,417.1 228.5,417 228.8,416.9 229,416.8 229.3,416.6 229.5,416.5 229.8,416.4 230,416.2 230.3,416.1 230.5,416 230.8,415.8 231,415.7 231.3,415.5 231.5,415.4 231.8,415.2 232,415.1 232.3,414.9 232.5,414.8 232.8,414.6 233,414.5 233.3,414.3 233.5,414.2 233.8,414 234,413.9 234.3,413.7 234.5,413.6 234.8,413.4 235,413.2 235.3,413.1 235.5,412.9 235.8,412.8 236,412.6 236.3,412.5 236.5,412.3 236.8,412.2 237,412 237.3,411.9 237.5,411.7 237.8,411.6 238,411.4 238.3,411.3 238.5,411.1 238.8,411 239,410.8 239.3,410.7 239.5,410.5 239.8,410.4 240,410.3 240.3,410.1 240.5,410 240.8,409.9 241,409.7 241.3,409.6 241.5,409.5 241.8,409.4 242,409.2 242.3,409.1 242.5,409 242.8,408.9 243,408.8 243.3,408.7 243.5,408.6 243.8,408.5 244,408.4 244.3,408.3 244.5,408.2 244.8,408.1 245,408 245.3,407.9 245.5,407.8 245.8,407.8 246,407.7 246.3,407.6 246.5,407.6"/>
</g>
<g clip-path="url(#c21)">
<polyline fill="none" stroke="#00f" stroke-width="0.85" transform="translate(317.5 0) scale(0.8 1)" points="0,454.8 0.2,451 0.4,464.6 0.6,465 0.8,450.7 1,445.4 1.3,462.7 1.5,379.2 1.7,366 1.9,372.5 2.1,374 2.3,375.8 2.5,383.3 2.7,373 2.9,377 3.1,374.7 3.4,370.7 3.6,366.9 3.8,368.4 4,365.3 4.2,384.5 4.4,367.7 4.6,370.6 4.8,362.4 5,360.1 5.2,384.7 5.4,363 5.7,378.3 5.9,368.4 6.1,364.7 6.3,362.5 6.5,360 6.7,368.2 6.9,362.2 7.1,371.8 7.3,378.8 7.5,380.8 7.7,371.8 8,365.2 8.2,373.1 8.4,366.9 8.6,381.7 8.8,359.2 9,372.4 9.2,363.1 9.4,365.7 9.6,364.3 9.8,374.9 10.1,382.1 10.3,372.9 10.5,376.2 10.7,374.4 10.9,358.7 11.1,376.8 11.3,364.2 11.5,380.6 11.7,369.3 11.9,375.8 12.1,378.6 12.4,374.6 12.6,443.2 12.8,452.7 13,454.3 13.2,446.7 13.4,454.7 13.6,465 13.8,464.5 14,448.9 14.2,455.6 14.4,462.5 14.7,442.3 14.9,460.8 15.1,447.2 15.3,459.6 15.5,448.2 15.7,454 15.9,467.1 16.1,449.1 16.3,460.3 16.5,456.5 16.7,449.1 17,441.6 17.2,456.2 17.4,450.2 17.6,455.1 17.8,450.3 18,463.8 18.2,441.6 18.4,464.2 18.6,450.3 18.8,466.3 19.1,465.7 19.3,444.8 19.5,448.1 19.7,465.5 19.9,460.6 20.1,466.2 20.3,443.2 20.5,445.5 20.7,447.4 20.9,449.5 21.1,450.2 21.4,467.2 21.6,466.5 21.8,460 22,452.7 22.2,446 22.4,456.3 22.6,461.4 22.8,451.2 23,442.7 23.2,455.1 23.4,453.1 23.7,460.3 23.9,448 24.1,464.1 24.3,450.2 24.5,462.2 24.7,450.1 24.9,454.7 25.1,446.1 25.3,453 25.5,443.9 25.8,456.1 26,467.6 26.2,442.1 26.4,447.6 26.6,446.2 26.8,446 27,381.7 27.2,361.8 27.4,382.8 27.6,376.8 27.8,380.8 28.1,372.2 28.3,380 28.5,379.4 28.7,369.6 28.9,380.7 29.1,372.2 29.3,366.6 29.5,384.6 29.7,361.5 29.9,365 30.2,365.1 30.4,365.8 30.6,359.5 30.8,381.2 31,382.8 31.2,365.4 31.4,384.5 31.6,368.3 31.8,368.5 32,360.5 32.2,382.4 32.5,375.7 32.7,364.9 32.9,375.8 33.1,377.3 33.3,380.3 33.5,384.5 33.7,371 33.9,383.3 34.1,372.6 34.3,365.5 34.5,373.9 34.8,368.9 35,359.7 35.2,380.3 35.4,367.9 35.6,367.2 35.8,371.5 36,376 36.2,380.7 36.4,375 36.6,370.3 36.9,359.2 37.1,377.8 37.3,362.2 37.5,364.2 37.7,375.3 37.9,369.7 38.1,384.3 38.3,359 38.5,371.9 38.7,380.9 38.9,364 39.2,361.9 39.4,365.5 39.6,358.9 39.8,377.7 40,370.3 40.2,373.3 40.4,368.1 40.6,377.6 40.8,366.9 41,372.6 41.2,374.8 41.5,366.5 41.7,377.8 41.9,376.2 42.1,358.5 42.3,374.7 42.5,376 42.7,442.4 42.9,443.1 43.1,443.6 43.3,465.4 43.6,446.7 43.8,462.4 44,450.8 44.2,445.3 44.4,448.2 44.6,466.5 44.8,452.2 45,463.5 45.2,446 45.4,462 45.6,462.6 45.9,458.6 46.1,453.4 46.3,444 46.5,463.3 46.7,445.7 46.9,456.9 47.1,441.6 47.3,451.1 47.5,462.2 47.7,454.5 47.9,448.3 48.2,446 48.4,455.6 48.6,458 48.8,448.5 49,465.3 49.2,449.3 49.4,457.5 49.6,449.6 49.8,465.7 50,461.3 50.2,460.4 50.5,459.9 50.7,442.3 50.9,445.3 51.1,465.7 51.3,452.7 51.5,442.8 51.7,446.5 51.9,466.7 52.1,448.4 52.3,447.3 52.6,444.1 52.8,452.6 53,456.4 53.2,463.2 53.4,452.2 53.6,460.6 53.8,460.4 54,453.9 54.2,466.1 54.4,455.1 54.6,461.3 54.9,455.8 55.1,463 55.3,448.2 55.5,445.1 55.7,449.6 55.9,444.3 56.1,444.5 56.3,452.4 56.5,448.1 56.7,464.2 57,453.3 57.2,442.4 57.4,448.2 57.6,442.3 57.8,459.7 58,464.1 58.2,466.3 58.4,467.5 58.6,452.3 58.8,449.3 59,463.5 59.3,442.7 59.5,460.6 59.7,461.8 59.9,449.3 60.1,467.3 60.3,455.7 60.5,450.3 60.7,453.1 60.9,461.9 61.1,446.6 61.3,453.3 61.6,452.8 61.8,457.8 62,442.1 62.2,466.5 62.4,461.3 62.6,449 62.8,459.9 63,448 63.2,448.2 63.4,457.1 63.7,445.7 63.9,449.6 64.1,450.2 64.3,453.6 64.5,452.9 64.7,443.6 64.9,446 65.1,461.5 65.3,444.4 65.5,451.8 65.7,455.4 66,453.8 66.2,453.6 66.4,455.2 66.6,442.5 66.8,448 67,465.2 67.2,460.5 67.4,458.3 67.6,442 67.8,453.1 68,451.3 68.3,442.7 68.5,446.1 68.7,461.8 68.9,461.2 69.1,452.1 69.3,454.6 69.5,467.7 69.7,453.7 69.9,443 70.1,449.9 70.3,464.4 70.6,449.4 70.8,463.3 71,442.2 71.2,453.6 71.4,444.3 71.6,447.5 71.8,442.3 72,454.3 72.2,454.9 72.4,466.4 72.7,450.2 72.9,461.6 73.1,461 73.3,452.4 73.5,450.4 73.7,464.7 73.9,453.8 74.1,467.8 74.3,467 74.5,452.9 74.7,449.4 75,456.8 75.2,451.4 75.4,445.9 75.6,453.7 75.8,444.5 76,372.4 76.2,363.3 76.4,367.8 76.6,368.2 76.8,372 77,364 77.3,368.2 77.5,362.1 77.7,362.5 77.9,367.3 78.1,375.4 78.3,359.9 78.5,368.5 78.7,377.8 78.9,363.1 79.1,379 79.4,384.8 79.6,361.4 79.8,378.6 80,375.5 80.2,372.3 80.4,382.2 80.6,371.7 80.8,374.9 81,384 81.2,375.5 81.4,367 81.7,360.4 81.9,368.9 82.1,359.5 82.3,368.7 82.5,374.6 82.7,368.4 82.9,368.4 83.1,363.4 83.3,372.3 83.5,363.6 83.8,379.3 84,376.9 84.2,373.5 84.4,378.2 84.6,376.9 84.8,375.8 85,364.9 85.2,372.5 85.4,378.9 85.6,382.8 85.8,362.1 86.1,366.3 86.3,366.9 86.5,382.9 86.7,384.3 86.9,376.4 87.1,384.2 87.3,379.6 87.5,359.1 87.7,373.2 87.9,365.1 88.1,360.8 88.4,371.9 88.6,364.4 88.8,369.3 89,373 89.2,364.2 89.4,379.9 89.6,378.5 89.8,452.6 90,461.3 90.2,464.7 90.5,453 90.7,449.7 90.9,458.2 91.1,457.5 91.3,451.9 91.5,460.4 91.7,459.3 91.9,463.2 92.1,449.1 92.3,455.5 92.5,447.7 92.8,454 93,446.3 93.2,450.7 93.4,455.5 93.6,451.4 93.8,450.2 94,463.4 94.2,455.9 94.4,463.9 94.6,448.2 94.8,454 95.1,445.9 95.3,458.2 95.5,445 95.7,466.5 95.9,465.9 96.1,459.3 96.3,461.9 96.5,455.3 96.7,460.7 96.9,449.2 97.2,446.4 97.4,446.7 97.6,446.2 97.8,381.6 98,379.2 98.2,361.8 98.4,360.9 98.6,359.2 98.8,360.4 99,371.4 99.2,377.7 99.5,384.2 99.7,371.6 99.9,383.7 100.1,369.9 100.3,381.8 100.5,380.2 100.7,378.7 100.9,372.2 101.1,379.3 101.3,374.3 101.5,361 101.8,374 102,362.2 102.2,374.5 102.4,380.5 102.6,375.9 102.8,362.2 103,369.1 103.2,375.6 103.4,379.4 103.6,367.8 103.8,374.4 104.1,363.3 104.3,380.6 104.5,360.5 104.7,364.7 104.9,364.1 105.1,370.7 105.3,366.8 105.5,379.5 105.7,371 105.9,368.7 106.2,375 106.4,370.5 106.6,360.7 106.8,374 107,376.9 107.2,373.3 107.4,361.5 107.6,381.2 107.8,373.4 108,366.7 108.2,377.2 108.5,371.4 108.7,361.3 108.9,376.7 109.1,373.2 109.3,383.5 109.5,368.2 109.7,382.1 109.9,382 110.1,368.1 110.3,370.2 110.5,364.3 110.8,379.4 111,384.4 111.2,362.3 111.4,363 111.6,374.7 111.8,380.5 112,367.8 112.2,370.6 112.4,371.3 112.6,383 112.9,381.6 113.1,458.9 113.3,458.8 113.5,445.2 113.7,464.9 113.9,447.4 114.1,464.3 114.3,452.9 114.5,444.4 114.7,465.7 114.9,445.2 115.2,449.2 115.4,449 115.6,454.9 115.8,466.1 116,445.2 116.2,444.5 116.4,465.4 116.6,453.8 116.8,462 117,446.5 117.3,461.4 117.5,457 117.7,448.2 117.9,459.6 118.1,466.1 118.3,460.8 118.5,459.4 118.7,465.2 118.9,445.5 119.1,457.9 119.3,459.6 119.6,450.5 119.8,459.6 120,452.3 120.2,449.2 120.4,452.5 120.6,466.4 120.8,442.8 121,442.6 121.2,455.6 121.4,456.5 121.6,450.6 121.9,457.9 122.1,459.8 122.3,460.4 122.5,465.8 122.7,444.9 122.9,465.6 123.1,459.9 123.3,446 123.5,447.7 123.7,444.9 123.9,467.8 124.2,459.1 124.4,455.5 124.6,451.1 124.8,459.8 125,455.7 125.2,442.1 125.4,457.7 125.6,445.8 125.8,453.2 126,442.6 126.3,448.2 126.5,465.4 126.7,449.3 126.9,450.6 127.1,444.8 127.3,455.2 127.5,463.1 127.7,443 127.9,379.7 128.1,377 128.3,376.9 128.6,374.1 128.8,374 129,373.5 129.2,370.7 129.4,362.7 129.6,360.8 129.8,373 130,375.4 130.2,378.2 130.4,367.4 130.6,362.3 130.9,371.4 131.1,363.7 131.3,377.3 131.5,368.6 131.7,382.6 131.9,373.4 132.1,375.5 132.3,371.9 132.5,377 132.7,371.2 133,375.9 133.2,379.4 133.4,380.3 133.6,378.4 133.8,364.2 134,373.6 134.2,378.5 134.4,364.9 134.6,368.6 134.8,370.7 135,360.7 135.3,369.4 135.5,367.4 135.7,371 135.9,382 136.1,375.7 136.3,363.9 136.5,360.9 136.7,377.8 136.9,380.3 137.1,370.8 137.3,367.5 137.6,361.3 137.8,381.1 138,361.2 138.2,359.1 138.4,360.1 138.6,378.5 138.8,369.6 139,376.2 139.2,366.6 139.4,382 139.7,364.6 139.9,380 140.1,382.6 140.3,382.4 140.5,382.9 140.7,376.5 140.9,376.4 141.1,362.6 141.3,375.1 141.5,365.8 141.7,379.2 142,377.2 142.2,366.8 142.4,462.1 142.6,441.6 142.8,461.2 143,447.6 143.2,441.9 143.4,460.3 143.6,459 143.8,454.9 144.1,450.1 144.3,443.3 144.5,463.5 144.7,447.1 144.9,442.5 145.1,467 145.3,462.1 145.5,459 145.7,443.6 145.9,466.1 146.1,458.4 146.4,450.1 146.6,449.9 146.8,453.3 147,441.6 147.2,460 147.4,463.2 147.6,459.8 147.8,466.5 148,465.6 148.2,460.3 148.4,450.3 148.7,465.3 148.9,451.2 149.1,453.4 149.3,456.4 149.5,445.6 149.7,452.9 149.9,467.7 150.1,445.3 150.3,447 150.5,463.3 150.8,455.3 151,458.3 151.2,452 151.4,441.7 151.6,452.9 151.8,467.4 152,463.9 152.2,442.5 152.4,443.3 152.6,455.6 152.8,442 153.1,466.7 153.3,444.6 153.5,443.2 153.7,446.7 153.9,456.7 154.1,447.1 154.3,450.6 154.5,455 154.7,456.1 154.9,443.5 155.1,451.8 155.4,465.7 155.6,448.3 155.8,367.3 156,379 156.2,370.5 156.4,375.9 156.6,381.2 156.8,382.9 157,383.1 157.2,384.3 157.5,375.5 157.7,364.1 157.9,381.8 158.1,373 158.3,380.6 158.5,362.3 158.7,375.9 158.9,379.8 159.1,367.8 159.3,368 159.5,368.9 159.8,385 160,377.2 160.2,381.6 160.4,381.1 160.6,370.4 160.8,366.5 161,378.3 161.2,465.7 161.4,443.1 161.6,447.9 161.8,443.6 162.1,451.7 162.3,457.6 162.5,453.7 162.7,442.5 162.9,466.3 163.1,461.9 163.3,460.9 163.5,467.5 163.7,453.4 163.9,464.4 164.1,453.9 164.4,467.8 164.6,447.3 164.8,458.2 165,462.8 165.2,460.7 165.4,467 165.6,460.2 165.8,444.7 166,459.5 166.2,442.6 166.5,450.1 166.7,456.4 166.9,463.7 167.1,447.7 167.3,459 167.5,461.8 167.7,444.4 167.9,446.3 168.1,456.1 168.3,463.2 168.5,458 168.8,448.1 169,458.7 169.2,465.5 169.4,378.9 169.6,379.6 169.8,376.1 170,366.1 170.2,376.3 170.4,370.3 170.6,366 170.8,371.6 171.1,364.4 171.3,376.5 171.5,365 171.7,374.3 171.9,359.9 172.1,369.8 172.3,370.8 172.5,380.7 172.7,367.9 172.9,379 173.2,380 173.4,376 173.6,363.6 173.8,380.8 174,368.8 174.2,368.6 174.4,378.2 174.6,360.7 174.8,359.5 175,364.7 175.2,368 175.5,380.9 175.7,364.9 175.9,382.5 176.1,383.1 176.3,365.5 176.5,383.5 176.7,384.2 176.9,381.1 177.1,368.2 177.3,375.7 177.5,362.7 177.8,383.7 178,382.7 178.2,366.4 178.4,365.3 178.6,369.4 178.8,364.3 179,362.2 179.2,371.1 179.4,366 179.6,369 179.9,382.1 180.1,366.5 180.3,363.1 180.5,379.7 180.7,367.7 180.9,373.7 181.1,372 181.3,368.1 181.5,381.7 181.7,359.6 181.9,384.9 182.2,360.1 182.4,369.6 182.6,374.8 182.8,368.3 183,371.7 183.2,374.3 183.4,364 183.6,467 183.8,466.4 184,463 184.2,455.6 184.5,461.2 184.7,467.6 184.9,453.6 185.1,449.4 185.3,451.9 185.5,464.7 185.7,449.1 185.9,454.3 186.1,450 186.3,465.8 186.6,443.4 186.8,456.5 187,441.8 187.2,460.6 187.4,465.3 187.6,452.5 187.8,467.9 188,453.3 188.2,456.8 188.4,451.4 188.6,466.6 188.9,453 189.1,467.7 189.3,448.6 189.5,461.4 189.7,455.7 189.9,448.3 190.1,464.3 190.3,457.1 190.5,462.7 190.7,450.4 190.9,443.3 191.2,461.9 191.4,448.6 191.6,462.2 191.8,444 192,442.3 192.2,462.2 192.4,464.8 192.6,447.8 192.8,443.9 193,441.5 193.3,450.3 193.5,457.2 193.7,465.9 193.9,452.6 194.1,454.5 194.3,447.5 194.5,444.5 194.7,445.7 194.9,449.8 195.1,445.8 195.3,445.1 195.6,464 195.8,462.1 196,441.5 196.2,453.6 196.4,459.2 196.6,461 196.8,462.6 197,462.8 197.2,441.7 197.4,467.8 197.7,375.4 197.9,364.6 198.1,384.5 198.3,384 198.5,383 198.7,382.3 198.9,381.4 199.1,374.4 199.3,367.4 199.5,371.7 199.7,359.5 200,366.7 200.2,373.3 200.4,380.5 200.6,361 200.8,370.1 201,363.9 201.2,369.5 201.4,358.7 201.6,377.5 201.8,373.3 202,368.8 202.3,376.1 202.5,359.6 202.7,360.5 202.9,378.2 203.1,359.8 203.3,363.4 203.5,374.3 203.7,372.1 203.9,366.3 204.1,378.3 204.4,377.3 204.6,379.9 204.8,376.7 205,361.3 205.2,376.5 205.4,363.4 205.6,377.8 205.8,454.9 206,453.3 206.2,456.8 206.4,449.5 206.7,443.8 206.9,461.8 207.1,461.5 207.3,454.4 207.5,452.9 207.7,463.8 207.9,454.8 208.1,461.6 208.3,464.4 208.5,447.9 208.7,448.1 209,453.1 209.2,461 209.4,459.7 209.6,462.9 209.8,455.2 210,454.9 210.2,451.9 210.4,450.8 210.6,455.8 210.8,441.5 211.1,447.9 211.3,451.2 211.5,454.1 211.7,447.1 211.9,463.5 212.1,442.1 212.3,452.5 212.5,463.2 212.7,442.8 212.9,464.6 213.1,361.7 213.4,377.6 213.6,358.7 213.8,365.1 214,381.1 214.2,380.5 214.4,378.1 214.6,383.2 214.8,362.3 215,372.8 215.2,360.3 215.4,379.6 215.7,384.9 215.9,377.8 216.1,365 216.3,371.4 216.5,366.8 216.7,374.1 216.9,361.3 217.1,378.1 217.3,378.2 217.5,373.7 217.7,376 218,374.5 218.2,366.8 218.4,373.2 218.6,368.1 218.8,378.2 219,372.5 219.2,382.8 219.4,359.7 219.6,379 219.8,374 220.1,373.1 220.3,365.3 220.5,371.6 220.7,368.4 220.9,377 221.1,376.2 221.3,376.2 221.5,360.5 221.7,361.7 221.9,383.3 222.1,382.1 222.4,383.1 222.6,378.3 222.8,372.3 223,378.5 223.2,366.1 223.4,374.3 223.6,367.5 223.8,384.3 224,384.9 224.2,367.9 224.4,373.6 224.7,379.2 224.9,369.1 225.1,380.7 225.3,384.4 225.5,365.5 225.7,381.9 225.9,368.5 226.1,364.9 226.3,361.1 226.5,363 226.8,367.8 227,374.8 227.2,367.2 227.4,376.9 227.6,376.5 227.8,371.6 228,380.3 228.2,364.5 228.4,368 228.6,382.3 228.8,374.5 229.1,464 229.3,458.1 229.5,456.8 229.7,454.4 229.9,444.5 230.1,458.9 230.3,443.8 230.5,448 230.7,464.9 230.9,454.7 231.1,448.5 231.4,456.6 231.6,447.3 231.8,466.6 232,462.6 232.2,449 232.4,453.9 232.6,454.1 232.8,457.9 233,447.8 233.2,449 233.5,463.6 233.7,454.7 233.9,442.1 234.1,443.3 234.3,445.1 234.5,464.5 234.7,466.3 234.9,453.1 235.1,443 235.3,451.6 235.5,467.3 235.8,459.3 236,467.5 236.2,448.8 236.4,458.7 236.6,456.4 236.8,464.3 237,446 237.2,456.8 237.4,453 237.6,458.5 237.8,466.1 238.1,461.8 238.3,460 238.5,452.5 238.7,455.1 238.9,456.9 239.1,447.2 239.3,447.5 239.5,455.9 239.7,451 239.9,446 240.2,458.2 240.4,454.8 240.6,447.9 240.8,464 241,462.7 241.2,460.4 241.4,464.6 241.6,460.2 241.8,467.6 242,456.6 242.2,444.7 242.5,467.8 242.7,452.5 242.9,447.7 243.1,452.5 243.3,453.5 243.5,467.6 243.7,446 243.9,452.9 244.1,452.3 244.3,456.9 244.5,443.4 244.8,464.4 245,459.5 245.2,455.7 245.4,446 245.6,460.9 245.8,462.7 246,461.4 246.2,450.4 246.4,447.8 246.6,457.1 246.9,453.7 247.1,461.5 247.3,444.6 247.5,443.2 247.7,452 247.9,450.8 248.1,463.7 248.3,454.2 248.5,442.7 248.7,468 248.9,450.5 249.2,456.5 249.4,461.3 249.6,464.8 249.8,458.6 250,443.5 250.2,458.2 250.4,456.2 250.6,448 250.8,466.4 251,450.9 251.2,449.8"/>
</g>
<path d="M46.6 351H246.9M46.6 475.5H246.9M47 413.25h2.2M246.5 413.25h-2.2" stroke="#4a4a4a" stroke-width="1" fill="none"/>
<path d="M47 351V475.5M246.5 351V475.5M96.88 475.5v-2.2M96.88 351v2.2M146.75 475.5v-2.2M146.75 351v2.2M196.62 475.5v-2.2M196.62 351v2.2" stroke="#4a4a4a" stroke-width="0.8" fill="none"/>
<text class="tk" transform="translate(47 492) scale(0.8 1)" text-anchor="middle">0</text>
<text class="tk" transform="translate(96.88 492) scale(0.8 1)" text-anchor="middle">5</text>
<text class="tk" transform="translate(146.75 492) scale(0.8 1)" text-anchor="middle">10</text>
<text class="tk" transform="translate(196.62 492) scale(0.8 1)" text-anchor="middle">15</text>
<text class="tk" transform="translate(246.5 492) scale(0.8 1)" text-anchor="middle">20</text>
<text class="tk" transform="translate(44 480) scale(0.8 1)" text-anchor="end">−5</text>
<text class="tk" transform="translate(44 417.75) scale(0.8 1)" text-anchor="end">0</text>
<text class="tk" transform="translate(44 355.5) scale(0.8 1)" text-anchor="end">5</text>
<text class="lb" transform="translate(146.95 506.9) scale(0.83 1)" text-anchor="middle" font-size="14.3">Time</text>
<text class="lb" transform="translate(25.2 410.6) scale(0.76 1) rotate(-90)" text-anchor="middle" font-size="14.3" textLength="102.5" lengthAdjust="spacing">Force Amplitude</text>
<text class="pl" transform="translate(1.7 353.2) scale(0.8 1)">e)</text>
<path d="M317.1 351H518.9M317.1 475.5H518.9M317.5 454.75h2.2M518.5 454.75h-2.2M317.5 413.25h2.2M518.5 413.25h-2.2M317.5 371.75h2.2M518.5 371.75h-2.2" stroke="#4a4a4a" stroke-width="1" fill="none"/>
<path d="M317.5 351V475.5M518.5 351V475.5M367.75 475.5v-2.2M367.75 351v2.2M418 475.5v-2.2M418 351v2.2M468.25 475.5v-2.2M468.25 351v2.2" stroke="#4a4a4a" stroke-width="0.8" fill="none"/>
<text class="tk" transform="translate(317.5 492) scale(0.8 1)" text-anchor="middle">0</text>
<text class="tk" transform="translate(367.75 492) scale(0.8 1)" text-anchor="middle">5</text>
<text class="tk" transform="translate(418 492) scale(0.8 1)" text-anchor="middle">10</text>
<text class="tk" transform="translate(468.25 492) scale(0.8 1)" text-anchor="middle">15</text>
<text class="tk" transform="translate(518.5 492) scale(0.8 1)" text-anchor="middle">20</text>
<text class="tk" transform="translate(314.5 459.25) scale(0.8 1)" text-anchor="end">−1</text>
<text class="tk" transform="translate(314.5 417.75) scale(0.8 1)" text-anchor="end">0</text>
<text class="tk" transform="translate(314.5 376.25) scale(0.8 1)" text-anchor="end">1</text>
<text class="lb" transform="translate(418.2 506.9) scale(0.83 1)" text-anchor="middle" font-size="14.3">Time</text>
<text class="lb" transform="translate(297.3 411.1) scale(0.76 1) rotate(-90)" text-anchor="middle" font-size="14.3" textLength="50" lengthAdjust="spacing">Position</text>
<text class="pl" transform="translate(282.3 353.4) scale(0.8 1)">f)</text>
</svg></body></html>
